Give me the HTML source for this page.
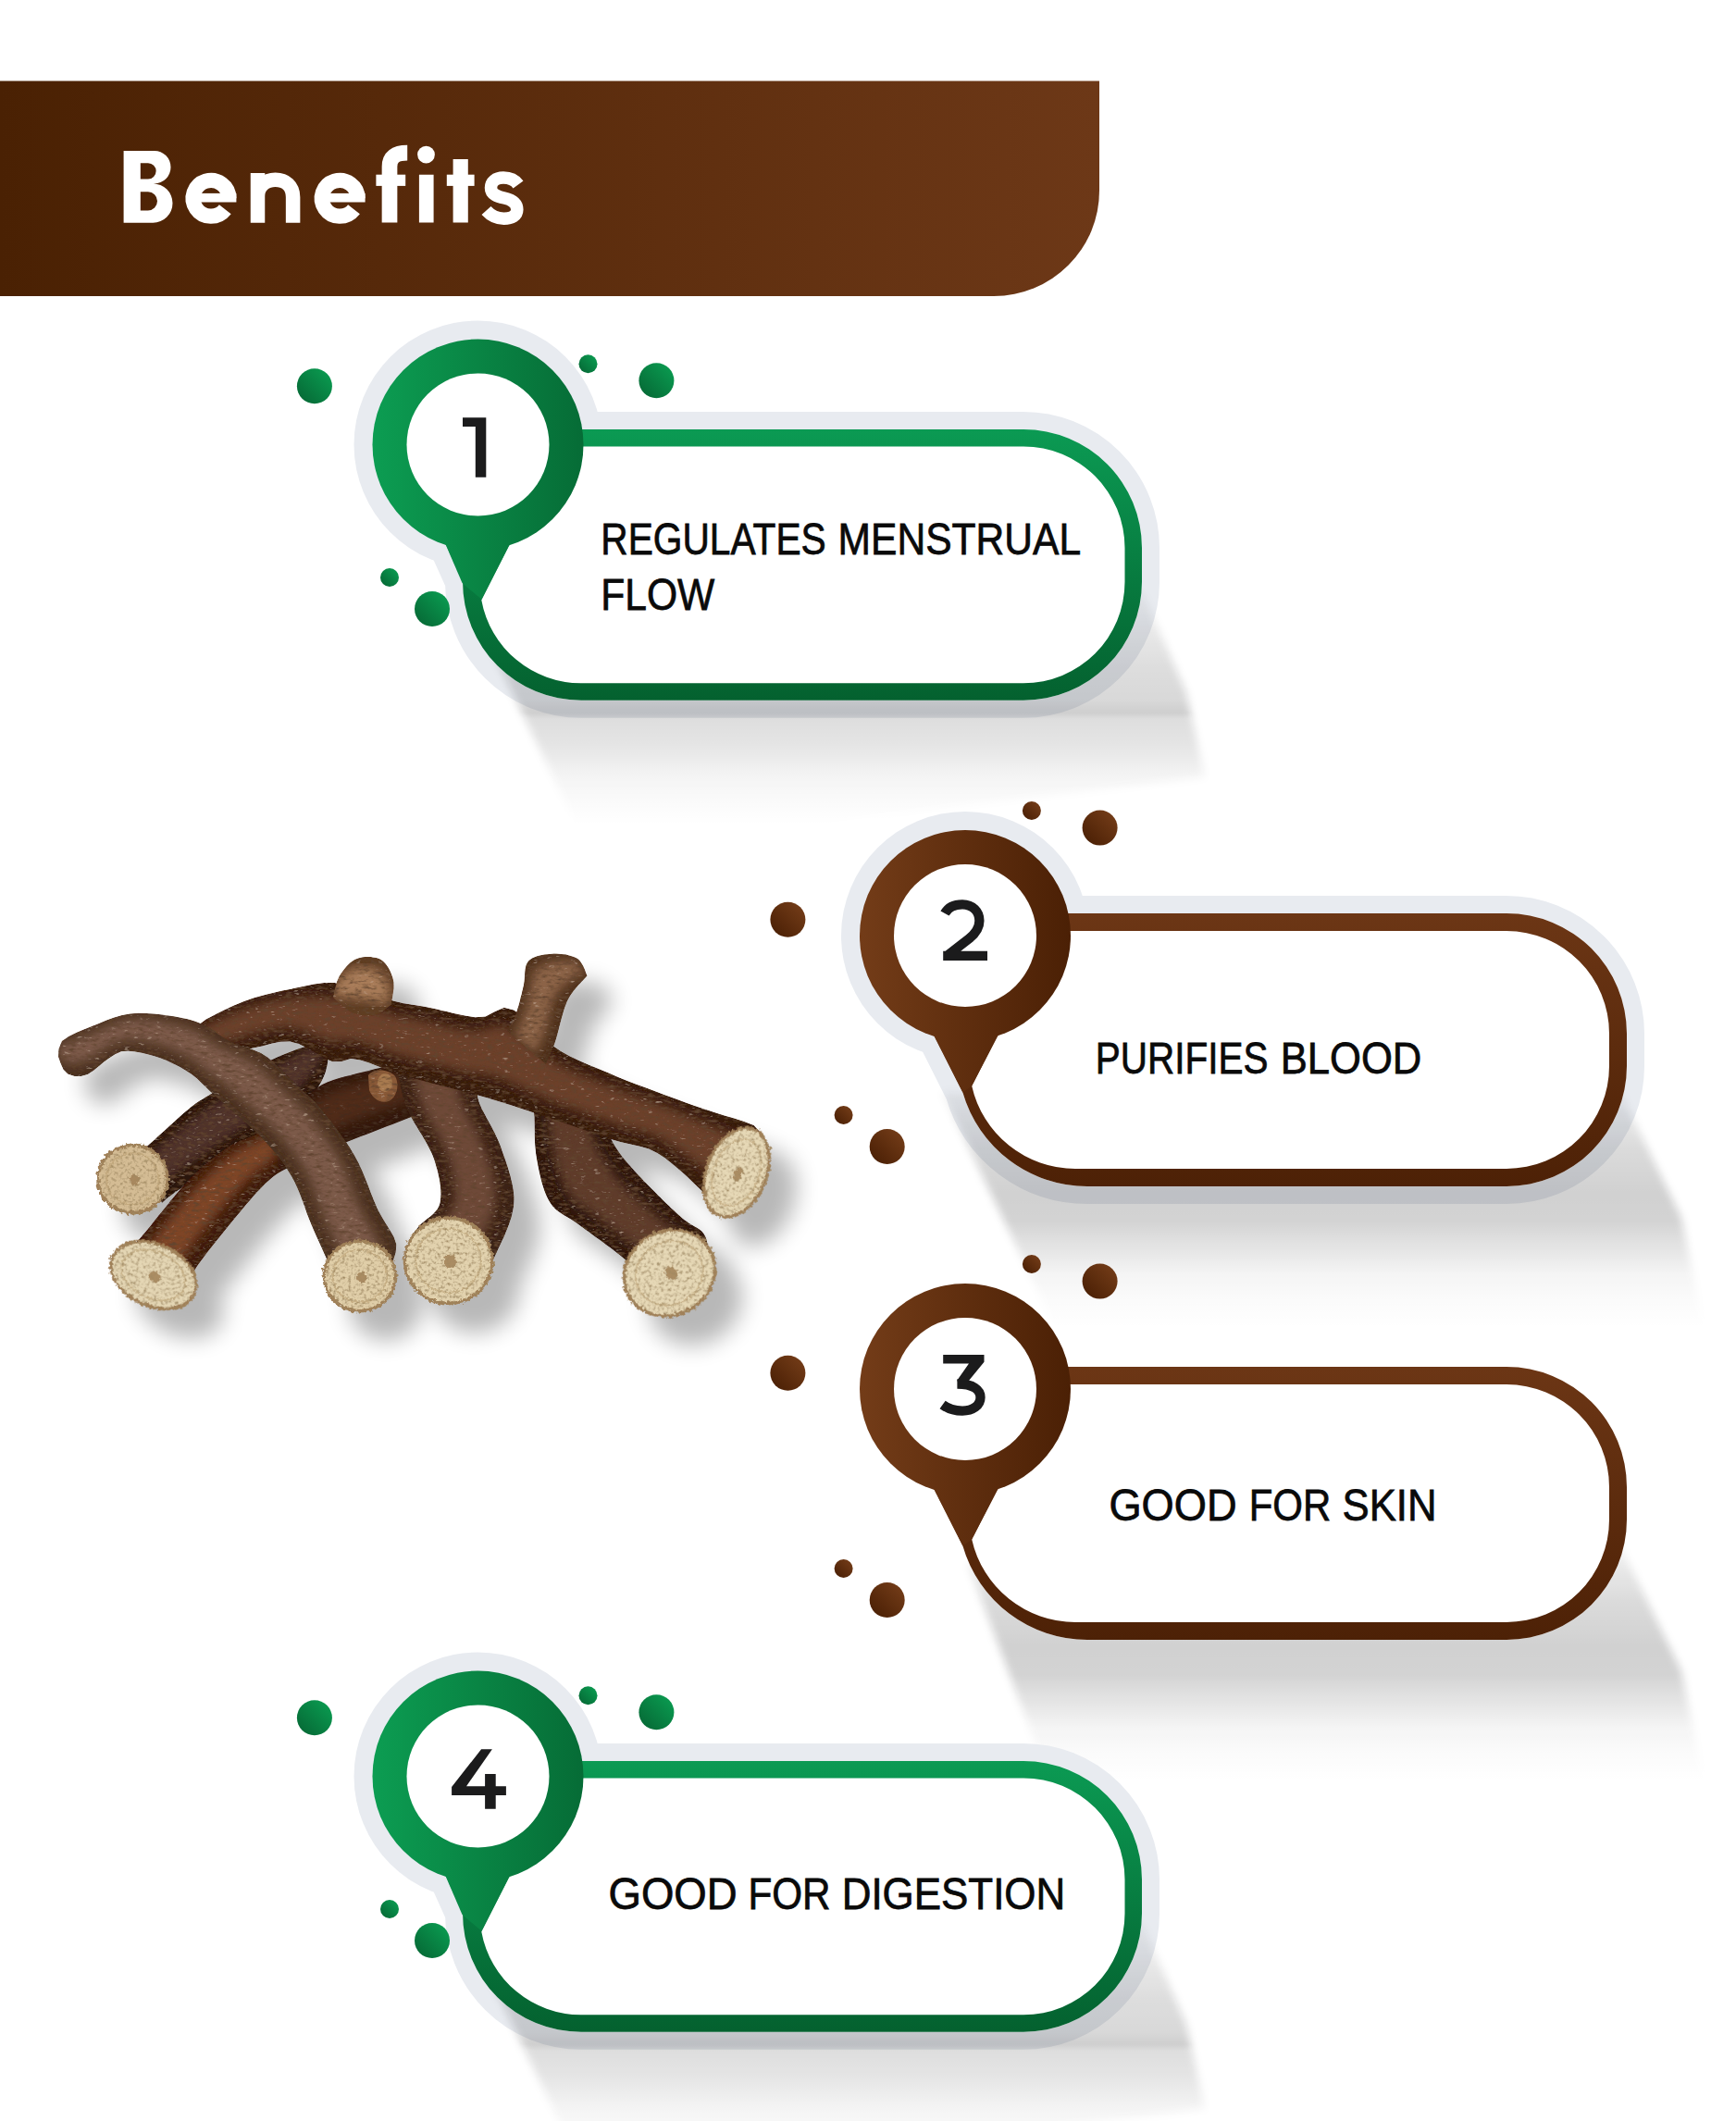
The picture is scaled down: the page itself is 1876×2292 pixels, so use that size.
<!DOCTYPE html>
<html><head><meta charset="utf-8"><style>
html,body{margin:0;padding:0;background:#fff;width:1876px;height:2292px;overflow:hidden}
svg{display:block}
text{font-family:"Liberation Sans",sans-serif}
</style></head><body>
<svg width="1876" height="2292" viewBox="0 0 1876 2292"><defs><linearGradient id="ban" x1="0" y1="0" x2="1" y2="0"><stop offset="0" stop-color="#4a2103"/><stop offset="1" stop-color="#6d3817"/></linearGradient></defs>
<path d="M0,87.5 L1188,87.5 L1188,206 A114,114 0 0 1 1074,320 L0,320 Z" fill="url(#ban)"/>
<g fill="#fff"><path fill-rule="evenodd" d="M133.6,162.9 H166.75 A17.75,17.75 0 0 1 166.75,198.4 L165.35,198.4 A21.15,21.15 0 0 1 165.35,240.7 H133.6 Z M151.8,176.2 H160 A8.65,8.65 0 0 1 160,193.5 H151.8 Z M151.8,207.3 H159.95 A10.05,10.05 0 0 1 159.95,227.4 H151.8 Z"/><circle cx="460.5" cy="167.1" r="9.4"/><rect x="406.4" y="188.7" width="31.8" height="12.2"/><rect x="482.8" y="188.7" width="29.8" height="12.2"/><rect x="212" y="208.9" width="43.4" height="9.6"/><rect x="351.2" y="208.9" width="43.4" height="9.6"/></g>
<g fill="none" stroke="#fff"><path stroke-width="16.2" d="M247.4,214.3 A19.4,19.4 0 1 0 243.3,226.2"/><path stroke-width="16.2" d="M386.6,214.3 A19.4,19.4 0 1 0 382.5,226.2"/><path stroke-width="15.5" d="M278.5,240.7 V187.1 M278.5,212 C278.5,201 287,194.3 297.5,194.3 C308.5,194.3 316.6,201 316.6,213 V240.7"/><path stroke-width="16.7" d="M421,240.6 V180 C421,170 427,165.2 440.2,165.2"/><path stroke-width="15.7" d="M460.75,188.7 V240.6"/><path stroke-width="16.2" d="M497.7,172 V240.6"/><path stroke-width="13.5" d="M560,199.5 C556,194 551,192.1 544,192.1 C535.5,192.1 530.5,196.5 530.5,203 C530.5,210.5 538,212.5 545,214 C553,215.8 558.8,219 558.8,226.5 C558.8,233 553,236.2 544.5,236.2 C536.5,236.2 530.5,233 525.5,227.5"/></g>
<defs><linearGradient id="g1c" gradientUnits="userSpaceOnUse" x1="402.5" y1="0" x2="630.5" y2="0"><stop offset="0" stop-color="#0c9d52"/><stop offset="1" stop-color="#066c36"/></linearGradient><linearGradient id="g1b" gradientUnits="userSpaceOnUse" x1="0" y1="464" x2="0" y2="756"><stop offset="0" stop-color="#0b9a53"/><stop offset="1" stop-color="#04612f"/></linearGradient><linearGradient id="g1d" x1="0.1" y1="0.9" x2="0.9" y2="0.1"><stop offset="0" stop-color="#066a36"/><stop offset="1" stop-color="#0a9a50"/></linearGradient></defs>
<g fill="#e8ebf0">
<circle cx="516.5" cy="480.5" r="134"/>
<path d="M560,464 L1106,464 A128,128 0 0 1 1234,592 L1234,628.8 A128,128 0 0 1 1106,756.8 L628,756.8 A128,128 0 0 1 500,628.8 L482,588.8 L470,560 Z" stroke="#e8ebf0" stroke-width="38" stroke-linejoin="round"/>
</g>
<defs><linearGradient id="g1sg" gradientUnits="userSpaceOnUse" x1="0" y1="600" x2="0" y2="920"><stop offset="0.0000" stop-color="#fff" stop-opacity="0"/><stop offset="0.1562" stop-color="#fff" stop-opacity="0.05"/><stop offset="0.3750" stop-color="#fff" stop-opacity="0.14"/><stop offset="0.4906" stop-color="#fff" stop-opacity="0.16"/><stop offset="0.5312" stop-color="#fff" stop-opacity="0.2"/><stop offset="0.5531" stop-color="#fff" stop-opacity="0.14"/><stop offset="0.6125" stop-color="#fff" stop-opacity="0.12"/><stop offset="0.6719" stop-color="#fff" stop-opacity="0.09"/><stop offset="0.7312" stop-color="#fff" stop-opacity="0.055"/><stop offset="0.7906" stop-color="#fff" stop-opacity="0.03"/><stop offset="0.8469" stop-color="#fff" stop-opacity="0.015"/><stop offset="0.9125" stop-color="#fff" stop-opacity="0"/></linearGradient><mask id="g1sm" maskUnits="userSpaceOnUse" x="0" y="0" width="1876" height="2292"><rect x="0" y="600" width="1876" height="320" fill="url(#g1sg)"/></mask><filter id="g1sf" filterUnits="userSpaceOnUse" x="0" y="0" width="1876" height="2292"><feGaussianBlur stdDeviation="4"/></filter></defs>
<g mask="url(#g1sm)"><polygon filter="url(#g1sf)" fill="#08080c" points="501.7,640.0 1234.9,640.0 1282.0,748.7 1302.0,840.0 636.0,920.0"/></g>
<path d="M560,464 L1106,464 A128,128 0 0 1 1234,592 L1234,628.8 A128,128 0 0 1 1106,756.8 L628,756.8 A128,128 0 0 1 500,628.8 L482,588.8 L470,560 Z" fill="#fff"/>
<path fill-rule="evenodd" fill="url(#g1b)" d="M560,464 L1106,464 A128,128 0 0 1 1234,592 L1234,628.8 A128,128 0 0 1 1106,756.8 L628,756.8 A128,128 0 0 1 500,628.8 L482,588.8 L470,560 Z M580,482.5 L1106,482.5 A109.5,109.5 0 0 1 1215.5,592 L1215.5,628.8 A109.5,109.5 0 0 1 1106,738.3 L628,738.3 A109.5,109.5 0 0 1 520.3,648.4 L550,590 L565,560 Z"/>
<polygon points="474.5,572 559,572 520.3,647.6 499.5,630" fill="url(#g1c)"/>
<circle cx="516.5" cy="480.5" r="114" fill="url(#g1c)"/>
<circle cx="516.5" cy="480.5" r="77" fill="#fff"/>
<path d="M500,451.3 H525.3 V515.8 H513.8 V461.1 H500 Z" fill="#1b1b1c"/>
<text transform="matrix(0.40683,0,0,0.47887,608.663,479.103)" x="100" y="250" font-family="Liberation Sans" font-weight="normal" font-size="100" fill="#0a0a0a" stroke="#0a0a0a" stroke-width="1.6">REGULATES</text>
<text transform="matrix(0.42574,0,0,0.47887,863.020,479.103)" x="100" y="250" font-family="Liberation Sans" font-weight="normal" font-size="100" fill="#0a0a0a" stroke="#0a0a0a" stroke-width="1.6">MENSTRUAL</text>
<text transform="matrix(0.42607,0,0,0.48310,606.584,538.242)" x="100" y="250" font-family="Liberation Sans" font-weight="normal" font-size="100" fill="#0a0a0a" stroke="#0a0a0a" stroke-width="1.6">FLOW</text>
<circle cx="339.9" cy="417.2" r="19" fill="url(#g1d)"/>
<circle cx="635.5" cy="393.2" r="10" fill="url(#g1d)"/>
<circle cx="709.4" cy="411.2" r="19" fill="url(#g1d)"/>
<circle cx="421" cy="624" r="10" fill="url(#g1d)"/>
<circle cx="467" cy="658" r="19" fill="url(#g1d)"/>
<defs><linearGradient id="g2c" gradientUnits="userSpaceOnUse" x1="929" y1="0" x2="1157" y2="0"><stop offset="0" stop-color="#733c18"/><stop offset="1" stop-color="#4b2005"/></linearGradient><linearGradient id="g2b" gradientUnits="userSpaceOnUse" x1="0" y1="987" x2="0" y2="1282"><stop offset="0" stop-color="#6c3615"/><stop offset="1" stop-color="#4d2106"/></linearGradient><linearGradient id="g2d" x1="0.1" y1="0.9" x2="0.9" y2="0.1"><stop offset="0" stop-color="#4b2005"/><stop offset="1" stop-color="#733c18"/></linearGradient></defs>
<g fill="#e8ebf0">
<circle cx="1043" cy="1011" r="134"/>
<path d="M1100,987 L1628,987 A130,130 0 0 1 1758,1117 L1758,1152 A130,130 0 0 1 1628,1282 L1175,1282 A140,140 0 0 1 1040.4,1180.6 L1000,1100 Z" stroke="#e8ebf0" stroke-width="38" stroke-linejoin="round"/>
</g>
<defs><linearGradient id="g2sg" gradientUnits="userSpaceOnUse" x1="0" y1="1130" x2="0" y2="1440"><stop offset="0.0000" stop-color="#fff" stop-opacity="0"/><stop offset="0.1613" stop-color="#fff" stop-opacity="0.05"/><stop offset="0.3548" stop-color="#fff" stop-opacity="0.15"/><stop offset="0.5161" stop-color="#fff" stop-opacity="0.19"/><stop offset="0.6129" stop-color="#fff" stop-opacity="0.18"/><stop offset="0.7194" stop-color="#fff" stop-opacity="0.1"/><stop offset="0.7968" stop-color="#fff" stop-opacity="0.045"/><stop offset="0.8710" stop-color="#fff" stop-opacity="0.02"/><stop offset="0.9839" stop-color="#fff" stop-opacity="0"/></linearGradient><mask id="g2sm" maskUnits="userSpaceOnUse" x="0" y="0" width="1876" height="2292"><rect x="0" y="1130" width="1876" height="310" fill="url(#g2sg)"/></mask><filter id="g2sf" filterUnits="userSpaceOnUse" x="0" y="0" width="1876" height="2292"><feGaussianBlur stdDeviation="4"/></filter></defs>
<g mask="url(#g2sm)"><polygon filter="url(#g2sf)" fill="#08080c" points="1018.0,1180.0 1751.0,1180.0 1817.0,1316.0 1842.0,1440.0 1143.0,1440.0"/></g>
<path d="M1100,987 L1628,987 A130,130 0 0 1 1758,1117 L1758,1152 A130,130 0 0 1 1628,1282 L1175,1282 A140,140 0 0 1 1040.4,1180.6 L1000,1100 Z" fill="#fff"/>
<path fill-rule="evenodd" fill="url(#g2b)" d="M1100,987 L1628,987 A130,130 0 0 1 1758,1117 L1758,1152 A130,130 0 0 1 1628,1282 L1175,1282 A140,140 0 0 1 1040.4,1180.6 L1000,1100 Z M1120,1006 L1628,1006 A111,111 0 0 1 1739,1117 L1739,1152 A111,111 0 0 1 1628,1263 L1162,1263 A114.6,114.6 0 0 1 1050.2,1173.4 L1077.9,1120.2 L1100,1080 Z"/>
<polygon points="1002,1105 1085,1105 1050.2,1173.4 1040.4,1180.6" fill="url(#g2c)"/>
<circle cx="1043" cy="1011" r="114" fill="url(#g2c)"/>
<circle cx="1043" cy="1011" r="77" fill="#fff"/>
<path d="M1021,987 C1024.5,980.5 1031,977.3 1040,977.3 C1051,977.3 1058.4,985 1058.4,995 C1058.4,1003 1054,1009 1047,1014.5 L1022.5,1033.5 M1019.2,1032.85 H1067" fill="none" stroke="#1b1b1c" stroke-width="10.3" stroke-linejoin="miter"/>
<text transform="matrix(0.40512,0,0,0.48592,1143.347,1038.335)" x="100" y="250" font-family="Liberation Sans" font-weight="normal" font-size="100" fill="#0a0a0a" stroke="#0a0a0a" stroke-width="1.6">PURIFIES</text>
<text transform="matrix(0.43580,0,0,0.48592,1340.134,1038.335)" x="100" y="250" font-family="Liberation Sans" font-weight="normal" font-size="100" fill="#0a0a0a" stroke="#0a0a0a" stroke-width="1.6">BLOOD</text>
<circle cx="1114.9" cy="876" r="10" fill="url(#g2d)"/>
<circle cx="1188.6" cy="894.6" r="19" fill="url(#g2d)"/>
<circle cx="851.4" cy="993.8" r="19" fill="url(#g2d)"/>
<circle cx="911.6" cy="1205" r="10" fill="url(#g2d)"/>
<circle cx="958.7" cy="1239" r="19" fill="url(#g2d)"/>
<defs><linearGradient id="g3c" gradientUnits="userSpaceOnUse" x1="929" y1="0" x2="1157" y2="0"><stop offset="0" stop-color="#733c18"/><stop offset="1" stop-color="#4b2005"/></linearGradient><linearGradient id="g3b" gradientUnits="userSpaceOnUse" x1="0" y1="1477" x2="0" y2="1772"><stop offset="0" stop-color="#6c3615"/><stop offset="1" stop-color="#4d2106"/></linearGradient><linearGradient id="g3d" x1="0.1" y1="0.9" x2="0.9" y2="0.1"><stop offset="0" stop-color="#4b2005"/><stop offset="1" stop-color="#733c18"/></linearGradient></defs>
<defs><linearGradient id="g3sg" gradientUnits="userSpaceOnUse" x1="0" y1="1620" x2="0" y2="1930"><stop offset="0.0000" stop-color="#fff" stop-opacity="0"/><stop offset="0.1613" stop-color="#fff" stop-opacity="0.05"/><stop offset="0.3548" stop-color="#fff" stop-opacity="0.15"/><stop offset="0.5161" stop-color="#fff" stop-opacity="0.19"/><stop offset="0.6129" stop-color="#fff" stop-opacity="0.18"/><stop offset="0.7194" stop-color="#fff" stop-opacity="0.1"/><stop offset="0.7968" stop-color="#fff" stop-opacity="0.045"/><stop offset="0.8710" stop-color="#fff" stop-opacity="0.02"/><stop offset="0.9839" stop-color="#fff" stop-opacity="0"/></linearGradient><mask id="g3sm" maskUnits="userSpaceOnUse" x="0" y="0" width="1876" height="2292"><rect x="0" y="1620" width="1876" height="310" fill="url(#g3sg)"/></mask><filter id="g3sf" filterUnits="userSpaceOnUse" x="0" y="0" width="1876" height="2292"><feGaussianBlur stdDeviation="4"/></filter></defs>
<g mask="url(#g3sm)"><polygon filter="url(#g3sf)" fill="#08080c" points="1046.0,1690.0 1751.0,1670.0 1817.0,1806.0 1842.0,1930.0 1136.0,1930.0"/></g>
<path d="M1100,1477 L1628,1477 A130,130 0 0 1 1758,1607 L1758,1642 A130,130 0 0 1 1628,1772 L1175,1772 A140,140 0 0 1 1040.4,1670.6 L1000,1590 Z" fill="#fff"/>
<path fill-rule="evenodd" fill="url(#g3b)" d="M1100,1477 L1628,1477 A130,130 0 0 1 1758,1607 L1758,1642 A130,130 0 0 1 1628,1772 L1175,1772 A140,140 0 0 1 1040.4,1670.6 L1000,1590 Z M1120,1496 L1628,1496 A111,111 0 0 1 1739,1607 L1739,1642 A111,111 0 0 1 1628,1753 L1162,1753 A114.6,114.6 0 0 1 1050.2,1663.4 L1077.9,1610.2 L1100,1570 Z"/>
<polygon points="1002,1595 1085,1595 1050.2,1663.4 1040.4,1670.6" fill="url(#g3c)"/>
<circle cx="1043" cy="1501" r="114" fill="url(#g3c)"/>
<circle cx="1043" cy="1501" r="77" fill="#fff"/>
<path d="M1034.4,1495.5 C1052,1495.5 1059.5,1502 1059.5,1510 C1059.5,1519 1051,1524.6 1040,1524.6 C1031,1524.6 1024,1522 1018.6,1518" fill="none" stroke="#1b1b1c" stroke-width="10.3" stroke-linejoin="miter"/>
<path d="M1019.2,1464.1 L1063.5,1464.1 L1063.5,1471.7 L1046.5,1492.5 L1034.4,1492.5 L1034.4,1491.6 L1047,1473.6 L1019.2,1473.6 Z" fill="#1b1b1c"/>
<text transform="matrix(0.45203,0,0,0.48451,1153.237,1521.689)" x="100" y="250" font-family="Liberation Sans" font-weight="normal" font-size="100" fill="#0a0a0a" stroke="#0a0a0a" stroke-width="1.6">GOOD</text>
<text transform="matrix(0.41970,0,0,0.48451,1307.773,1521.689)" x="100" y="250" font-family="Liberation Sans" font-weight="normal" font-size="100" fill="#0a0a0a" stroke="#0a0a0a" stroke-width="1.6">FOR</text>
<text transform="matrix(0.43727,0,0,0.48451,1406.786,1521.689)" x="100" y="250" font-family="Liberation Sans" font-weight="normal" font-size="100" fill="#0a0a0a" stroke="#0a0a0a" stroke-width="1.6">SKIN</text>
<circle cx="1114.9" cy="1366" r="10" fill="url(#g3d)"/>
<circle cx="1188.6" cy="1384.6" r="19" fill="url(#g3d)"/>
<circle cx="851.4" cy="1483.8" r="19" fill="url(#g3d)"/>
<circle cx="911.6" cy="1695" r="10" fill="url(#g3d)"/>
<circle cx="958.7" cy="1729" r="19" fill="url(#g3d)"/>
<defs><linearGradient id="g4c" gradientUnits="userSpaceOnUse" x1="402.5" y1="0" x2="630.5" y2="0"><stop offset="0" stop-color="#0c9d52"/><stop offset="1" stop-color="#066c36"/></linearGradient><linearGradient id="g4b" gradientUnits="userSpaceOnUse" x1="0" y1="1903" x2="0" y2="2195"><stop offset="0" stop-color="#0b9a53"/><stop offset="1" stop-color="#04612f"/></linearGradient><linearGradient id="g4d" x1="0.1" y1="0.9" x2="0.9" y2="0.1"><stop offset="0" stop-color="#066a36"/><stop offset="1" stop-color="#0a9a50"/></linearGradient></defs>
<g fill="#e8ebf0">
<circle cx="516.5" cy="1919.5" r="134"/>
<path d="M560,1903 L1106,1903 A128,128 0 0 1 1234,2031 L1234,2067.8 A128,128 0 0 1 1106,2195.8 L628,2195.8 A128,128 0 0 1 500,2067.8 L482,2027.8 L470,1999 Z" stroke="#e8ebf0" stroke-width="38" stroke-linejoin="round"/>
</g>
<defs><linearGradient id="g4sg" gradientUnits="userSpaceOnUse" x1="0" y1="2039" x2="0" y2="2359"><stop offset="0.0000" stop-color="#fff" stop-opacity="0"/><stop offset="0.1562" stop-color="#fff" stop-opacity="0.05"/><stop offset="0.3750" stop-color="#fff" stop-opacity="0.14"/><stop offset="0.4906" stop-color="#fff" stop-opacity="0.16"/><stop offset="0.5312" stop-color="#fff" stop-opacity="0.2"/><stop offset="0.5531" stop-color="#fff" stop-opacity="0.14"/><stop offset="0.6125" stop-color="#fff" stop-opacity="0.12"/><stop offset="0.6719" stop-color="#fff" stop-opacity="0.09"/><stop offset="0.7312" stop-color="#fff" stop-opacity="0.055"/><stop offset="0.7906" stop-color="#fff" stop-opacity="0.03"/><stop offset="0.8469" stop-color="#fff" stop-opacity="0.015"/><stop offset="0.9125" stop-color="#fff" stop-opacity="0"/></linearGradient><mask id="g4sm" maskUnits="userSpaceOnUse" x="0" y="0" width="1876" height="2292"><rect x="0" y="2039" width="1876" height="320" fill="url(#g4sg)"/></mask><filter id="g4sf" filterUnits="userSpaceOnUse" x="0" y="0" width="1876" height="2292"><feGaussianBlur stdDeviation="4"/></filter></defs>
<g mask="url(#g4sm)"><polygon filter="url(#g4sf)" fill="#08080c" points="501.7,2079.0 1234.9,2079.0 1282.0,2187.7 1302.0,2279.0 636.0,2359.0"/></g>
<path d="M560,1903 L1106,1903 A128,128 0 0 1 1234,2031 L1234,2067.8 A128,128 0 0 1 1106,2195.8 L628,2195.8 A128,128 0 0 1 500,2067.8 L482,2027.8 L470,1999 Z" fill="#fff"/>
<path fill-rule="evenodd" fill="url(#g4b)" d="M560,1903 L1106,1903 A128,128 0 0 1 1234,2031 L1234,2067.8 A128,128 0 0 1 1106,2195.8 L628,2195.8 A128,128 0 0 1 500,2067.8 L482,2027.8 L470,1999 Z M580,1921.5 L1106,1921.5 A109.5,109.5 0 0 1 1215.5,2031 L1215.5,2067.8 A109.5,109.5 0 0 1 1106,2177.3 L628,2177.3 A109.5,109.5 0 0 1 520.3,2087.4 L550,2029 L565,1999 Z"/>
<polygon points="474.5,2011 559,2011 520.3,2086.6 499.5,2069" fill="url(#g4c)"/>
<circle cx="516.5" cy="1919.5" r="114" fill="url(#g4c)"/>
<circle cx="516.5" cy="1919.5" r="77" fill="#fff"/>
<path d="M520.1,1890.2 L531.9,1890.2 L504,1930.2 L524.1,1930.2 L524.1,1917 L535.7,1917 L535.7,1930.2 L546.9,1930.2 L546.9,1940 L535.7,1940 L535.7,1954.7 L524.1,1954.7 L524.1,1940 L488.1,1940 L488.1,1931 Z" fill="#1b1b1c"/>
<text transform="matrix(0.45541,0,0,0.47887,611.982,1943.603)" x="100" y="250" font-family="Liberation Sans" font-weight="normal" font-size="100" fill="#0a0a0a" stroke="#0a0a0a" stroke-width="1.6">GOOD</text>
<text transform="matrix(0.42222,0,0,0.47887,766.200,1943.603)" x="100" y="250" font-family="Liberation Sans" font-weight="normal" font-size="100" fill="#0a0a0a" stroke="#0a0a0a" stroke-width="1.6">FOR</text>
<text transform="matrix(0.43933,0,0,0.47887,865.753,1943.603)" x="100" y="250" font-family="Liberation Sans" font-weight="normal" font-size="100" fill="#0a0a0a" stroke="#0a0a0a" stroke-width="1.6">DIGESTION</text>
<circle cx="339.9" cy="1856.2" r="19" fill="url(#g4d)"/>
<circle cx="635.5" cy="1832.2" r="10" fill="url(#g4d)"/>
<circle cx="709.4" cy="1850.2" r="19" fill="url(#g4d)"/>
<circle cx="421" cy="2063" r="10" fill="url(#g4d)"/>
<circle cx="467" cy="2097" r="19" fill="url(#g4d)"/>
<g><defs><filter id="stkblur" x="-10%" y="-10%" width="120%" height="120%"><feGaussianBlur stdDeviation="6"/></filter><filter id="stkshadow" filterUnits="userSpaceOnUse" x="0" y="950" width="950" height="550"><feGaussianBlur stdDeviation="12"/></filter><filter id="bark" filterUnits="userSpaceOnUse" x="0" y="950" width="950" height="550"><feTurbulence type="fractalNoise" baseFrequency="0.12 0.3" numOctaves="3" seed="7" result="n"/><feColorMatrix in="n" type="matrix" values="0 0 0 0 0.12  0 0 0 0 0.06  0 0 0 0 0.03  -2.8 0 0 0 1.45" result="dk"/><feComposite in="dk" in2="SourceAlpha" operator="in" result="dkm"/><feColorMatrix in="n" type="matrix" values="0 0 0 0 0.62  0 0 0 0 0.46  0 0 0 0 0.34  2.2 0 0 0 -1.5" result="lt"/><feComposite in="lt" in2="SourceAlpha" operator="in" result="ltm"/><feMerge><feMergeNode in="SourceGraphic"/><feMergeNode in="dkm"/><feMergeNode in="ltm"/></feMerge></filter><filter id="cutf" filterUnits="userSpaceOnUse" x="0" y="950" width="950" height="550"><feTurbulence type="fractalNoise" baseFrequency="0.3" numOctaves="2" seed="11" result="n"/><feDisplacementMap in="SourceGraphic" in2="n" scale="6" xChannelSelector="R" yChannelSelector="G" result="d"/><feColorMatrix in="n" type="matrix" values="0 0 0 0 0.35  0 0 0 0 0.25  0 0 0 0 0.12  -2.5 0 0 0 1.35" result="dk"/><feComposite in="dk" in2="d" operator="in" result="dkm"/><feMerge><feMergeNode in="d"/><feMergeNode in="dkm"/></feMerge></filter></defs><g fill="#000" opacity="0.28" filter="url(#stkshadow)" transform="translate(28,30)"><path d="M150.0,1245.0 L153.4,1242.8 L156.7,1240.3 L159.9,1237.8 L163.0,1235.1 L166.1,1232.3 L169.1,1229.6 L172.1,1226.8 L175.1,1224.0 L178.2,1221.3 L181.2,1218.5 L184.2,1215.7 L187.2,1212.9 L190.2,1210.2 L193.3,1207.4 L196.3,1204.7 L199.4,1202.0 L202.6,1199.4 L205.7,1196.8 L209.0,1194.2 L212.3,1191.8 L215.7,1189.5 L219.2,1187.4 L222.7,1185.3 L226.2,1183.2 L229.7,1181.1 L233.2,1179.0 L236.8,1176.9 L240.3,1174.8 L243.8,1172.7 L247.3,1170.6 L250.9,1168.6 L254.4,1166.5 L258.0,1164.4 L261.5,1162.4 L265.1,1160.3 L268.6,1158.3 L272.2,1156.3 L275.8,1154.3 L279.4,1152.3 L283.0,1150.4 L286.6,1148.5 L290.3,1146.7 L294.0,1144.9 L297.7,1143.2 L301.4,1141.5 L305.2,1139.9 L309.0,1138.4 L312.8,1136.9 L316.7,1135.5 L320.6,1134.1 L324.4,1132.8 L328.3,1131.6 L332.3,1130.4 L336.2,1129.2 L340.1,1128.0 L344.0,1126.8 L348.0,1125.8 L352.0,1124.9 L356.0,1124.0 L356.0,1124.0 L355.7,1128.5 L355.4,1132.9 L355.2,1137.4 L354.8,1141.9 L354.4,1146.3 L353.7,1150.8 L352.8,1155.1 L351.5,1159.4 L349.9,1163.6 L348.0,1167.6 L345.9,1171.6 L343.5,1175.4 L340.9,1179.0 L338.1,1182.5 L335.1,1185.9 L332.0,1189.1 L328.8,1192.2 L325.5,1195.2 L322.1,1198.1 L318.6,1200.9 L315.1,1203.7 L311.5,1206.4 L308.0,1209.1 L304.4,1211.8 L300.8,1214.4 L297.1,1217.1 L293.5,1219.7 L289.8,1222.2 L286.1,1224.8 L282.4,1227.3 L278.7,1229.8 L275.0,1232.2 L271.2,1234.7 L267.5,1237.2 L263.8,1239.6 L260.0,1242.1 L256.3,1244.6 L252.5,1247.0 L248.8,1249.5 L245.1,1252.0 L241.3,1254.4 L237.6,1256.9 L233.8,1259.3 L230.1,1261.8 L226.3,1264.2 L222.6,1266.6 L218.8,1269.1 L215.1,1271.5 L211.3,1274.0 L207.6,1276.4 L203.8,1278.8 L200.1,1281.3 L196.3,1283.8 L192.6,1286.2 L188.9,1288.8 L185.3,1291.4 L181.7,1294.1 L178.3,1297.0 L175.0,1300.0 Z"/><path d="M135.0,1352.0 L140.5,1348.4 L145.4,1344.1 L150.0,1339.4 L154.3,1334.5 L158.6,1329.4 L162.7,1324.4 L166.8,1319.3 L170.9,1314.1 L175.1,1309.0 L179.2,1303.9 L183.3,1298.8 L187.5,1293.8 L191.7,1288.7 L196.0,1283.8 L200.3,1278.9 L204.8,1274.1 L209.4,1269.4 L214.2,1264.8 L219.0,1260.4 L223.9,1256.1 L229.0,1251.9 L234.2,1247.9 L239.5,1244.0 L244.8,1240.2 L250.4,1236.8 L256.3,1233.9 L262.4,1231.4 L268.5,1229.1 L274.5,1226.4 L280.3,1223.4 L285.9,1219.9 L291.3,1216.2 L296.7,1212.4 L302.0,1208.6 L307.2,1204.6 L312.5,1200.7 L317.7,1196.7 L322.9,1192.7 L327.8,1188.4 L332.6,1183.9 L337.5,1179.5 L342.6,1175.4 L348.1,1171.9 L354.1,1169.2 L360.2,1166.9 L366.5,1165.0 L372.9,1163.3 L379.2,1161.7 L385.6,1160.1 L392.0,1158.5 L398.3,1156.9 L404.7,1155.3 L411.1,1153.8 L417.5,1152.4 L423.9,1151.1 L430.4,1150.0 L436.9,1149.4 L443.5,1149.5 L450.0,1150.0 L470.0,1190.0 L468.7,1195.4 L463.6,1198.7 L458.1,1201.3 L452.5,1203.8 L446.9,1206.1 L441.2,1208.3 L435.5,1210.6 L429.8,1212.8 L424.2,1215.0 L418.5,1217.1 L412.8,1219.3 L407.1,1221.5 L401.4,1223.7 L395.7,1225.9 L390.0,1228.1 L384.3,1230.3 L378.7,1232.5 L373.0,1234.8 L367.4,1237.1 L361.7,1239.4 L356.1,1241.7 L350.5,1244.0 L344.8,1246.3 L339.2,1248.7 L333.6,1251.1 L328.1,1253.6 L322.5,1256.2 L317.1,1258.9 L311.7,1261.7 L306.3,1264.5 L301.0,1267.6 L296.0,1271.1 L291.3,1275.0 L286.8,1279.1 L282.5,1283.4 L278.3,1287.8 L274.2,1292.3 L270.2,1296.9 L266.2,1301.5 L262.3,1306.2 L258.4,1310.9 L254.6,1315.6 L250.7,1320.3 L246.8,1325.0 L243.0,1329.7 L239.1,1334.4 L235.3,1339.2 L231.5,1343.9 L227.7,1348.7 L223.9,1353.5 L220.3,1358.4 L216.7,1363.3 L213.1,1368.3 L209.8,1373.4 L206.6,1378.6 L203.6,1383.9 L200.7,1389.2 L197.9,1394.6 L195.0,1400.0 Z"/><path d="M575.0,1190.0 L575.9,1193.9 L576.6,1197.9 L577.0,1201.9 L577.4,1206.0 L577.5,1210.0 L577.6,1214.0 L577.6,1218.1 L577.7,1222.1 L577.7,1226.2 L577.8,1230.2 L578.0,1234.2 L578.2,1238.3 L578.6,1242.3 L579.0,1246.3 L579.6,1250.3 L580.3,1254.3 L581.0,1258.3 L581.8,1262.2 L582.6,1266.2 L583.5,1270.1 L584.5,1274.1 L585.5,1278.0 L586.7,1281.9 L587.9,1285.7 L589.3,1289.5 L590.9,1293.2 L592.7,1296.8 L594.8,1300.3 L597.2,1303.5 L600.0,1306.4 L603.1,1309.0 L606.4,1311.3 L609.8,1313.5 L613.3,1315.5 L616.8,1317.6 L620.2,1319.8 L623.5,1322.1 L626.8,1324.4 L630.0,1326.8 L633.3,1329.2 L636.6,1331.6 L639.8,1334.0 L643.1,1336.4 L646.4,1338.8 L649.6,1341.1 L652.9,1343.5 L656.1,1345.9 L659.4,1348.3 L662.6,1350.8 L665.8,1353.2 L669.0,1355.7 L672.1,1358.3 L675.2,1361.0 L678.1,1363.8 L680.8,1366.7 L683.3,1369.9 L685.7,1373.2 L687.8,1376.6 L690.0,1380.0 L765.0,1345.0 L764.1,1341.9 L763.3,1338.8 L762.1,1335.8 L760.5,1333.0 L758.5,1330.6 L756.0,1328.5 L753.3,1326.8 L750.5,1325.2 L747.7,1323.6 L745.0,1321.9 L742.3,1320.1 L739.7,1318.2 L737.2,1316.2 L734.8,1314.1 L732.4,1312.0 L730.0,1309.8 L727.7,1307.6 L725.3,1305.4 L723.0,1303.1 L720.7,1300.9 L718.4,1298.7 L716.1,1296.4 L713.8,1294.1 L711.5,1291.9 L709.2,1289.6 L707.0,1287.3 L704.7,1285.1 L702.5,1282.8 L700.2,1280.5 L698.0,1278.2 L695.7,1275.9 L693.5,1273.5 L691.3,1271.2 L689.1,1268.9 L686.9,1266.5 L684.7,1264.1 L682.6,1261.7 L680.5,1259.3 L678.3,1256.9 L676.3,1254.4 L674.2,1252.0 L672.2,1249.5 L670.3,1246.9 L668.4,1244.3 L666.6,1241.6 L664.9,1238.9 L663.2,1236.1 L661.7,1233.3 L660.2,1230.5 L658.9,1227.5 L657.8,1224.5 L656.6,1221.5 L655.6,1218.5 L654.6,1215.4 L653.7,1212.3 L652.8,1209.2 L651.9,1206.2 L651.0,1203.1 L650.0,1200.0 Z"/><path d="M430.0,1160.0 L430.7,1163.3 L431.3,1166.5 L431.8,1169.8 L432.4,1173.1 L433.1,1176.4 L433.8,1179.6 L434.6,1182.9 L435.4,1186.1 L436.4,1189.3 L437.4,1192.5 L438.6,1195.6 L439.9,1198.7 L441.3,1201.7 L442.8,1204.7 L444.4,1207.6 L446.1,1210.5 L447.7,1213.4 L449.5,1216.2 L451.2,1219.1 L452.9,1221.9 L454.7,1224.7 L456.4,1227.6 L458.1,1230.5 L459.8,1233.3 L461.4,1236.3 L463.0,1239.2 L464.5,1242.2 L466.0,1245.2 L467.3,1248.2 L468.5,1251.3 L469.6,1254.5 L470.6,1257.7 L471.5,1260.9 L472.4,1264.1 L473.2,1267.3 L473.9,1270.6 L474.6,1273.8 L475.2,1277.1 L475.6,1280.4 L476.0,1283.7 L476.3,1287.1 L476.3,1290.4 L476.2,1293.7 L475.9,1297.0 L475.3,1300.3 L474.2,1303.5 L472.6,1306.4 L470.6,1309.0 L468.3,1311.5 L465.9,1313.7 L463.3,1315.8 L460.6,1317.8 L458.0,1319.9 L455.5,1322.0 L453.2,1324.5 L451.0,1327.0 L449.0,1329.6 L447.0,1332.3 L445.0,1335.0 L525.0,1370.0 L527.8,1367.4 L530.5,1364.7 L532.6,1361.5 L534.5,1358.2 L536.1,1354.7 L537.7,1351.2 L539.3,1347.8 L541.0,1344.3 L542.6,1340.8 L544.2,1337.4 L545.7,1333.9 L547.2,1330.3 L548.6,1326.8 L550.0,1323.2 L551.2,1319.6 L552.4,1315.9 L553.4,1312.3 L554.2,1308.5 L554.9,1304.8 L555.3,1301.0 L555.5,1297.1 L555.5,1293.3 L555.1,1289.5 L554.7,1285.7 L554.1,1281.9 L553.3,1278.2 L552.4,1274.4 L551.5,1270.7 L550.4,1267.1 L549.4,1263.4 L548.2,1259.8 L547.0,1256.1 L545.8,1252.5 L544.5,1248.9 L543.2,1245.3 L542.0,1241.7 L540.7,1238.1 L539.3,1234.5 L537.8,1231.0 L536.2,1227.5 L534.5,1224.1 L532.8,1220.7 L531.0,1217.3 L529.2,1213.9 L527.3,1210.6 L525.5,1207.2 L523.7,1203.8 L521.9,1200.4 L520.2,1197.0 L518.7,1193.5 L517.4,1189.9 L516.4,1186.2 L515.9,1182.4 L515.8,1178.6 L516.1,1174.8 L516.8,1171.0 L517.9,1167.3 L519.0,1163.7 L520.0,1160.0 Z"/><path d="M214.0,1108.0 L222.6,1101.4 L232.6,1096.2 L242.6,1091.2 L252.8,1086.4 L263.1,1082.2 L273.7,1078.5 L284.5,1075.5 L295.4,1072.7 L306.3,1070.3 L317.3,1068.1 L328.3,1065.8 L339.2,1063.5 L350.3,1062.0 L361.5,1062.1 L372.5,1064.1 L383.3,1067.2 L393.9,1071.0 L404.3,1074.9 L414.9,1078.6 L425.7,1081.8 L436.6,1084.2 L447.7,1086.0 L458.7,1087.8 L469.7,1089.9 L480.6,1092.5 L491.5,1095.2 L502.5,1097.6 L513.5,1099.2 L524.6,1098.4 L534.5,1093.2 L544.7,1088.8 L555.4,1091.6 L564.3,1098.3 L572.5,1106.0 L580.3,1114.0 L588.2,1121.9 L596.6,1129.4 L605.7,1135.8 L615.5,1141.3 L625.6,1146.1 L635.9,1150.5 L646.3,1154.8 L656.7,1159.0 L667.0,1163.5 L677.3,1167.7 L687.8,1171.7 L698.3,1175.6 L708.8,1179.6 L719.3,1183.5 L729.8,1187.3 L740.4,1191.2 L750.9,1195.0 L761.5,1198.6 L772.1,1202.1 L782.9,1205.4 L793.6,1208.6 L804.3,1211.9 L814.7,1216.0 L822.0,1224.0 L775.0,1310.0 L769.8,1301.2 L763.9,1292.9 L756.9,1285.5 L749.6,1278.4 L742.2,1271.3 L734.6,1264.5 L726.8,1257.9 L718.8,1251.6 L710.3,1246.0 L701.1,1241.6 L691.3,1238.7 L681.3,1236.6 L671.3,1234.3 L661.5,1231.5 L651.9,1228.2 L642.2,1224.9 L632.6,1221.6 L622.9,1218.3 L613.3,1214.9 L603.6,1211.6 L594.0,1208.2 L584.3,1204.9 L574.6,1201.7 L564.9,1198.5 L555.2,1195.3 L545.5,1192.2 L535.8,1189.2 L526.0,1186.3 L516.2,1183.5 L506.3,1180.8 L496.4,1178.2 L486.5,1175.7 L476.6,1173.2 L466.8,1170.7 L456.9,1168.1 L447.0,1165.4 L437.2,1162.6 L427.5,1159.4 L417.9,1155.9 L408.4,1152.2 L398.9,1148.5 L389.2,1145.4 L379.1,1144.1 L369.3,1146.9 L359.3,1147.3 L350.0,1143.2 L341.2,1138.1 L332.4,1132.8 L323.3,1128.2 L313.5,1125.5 L303.3,1125.7 L293.4,1127.8 L283.5,1130.4 L273.5,1132.6 L263.6,1135.0 L253.7,1137.4 L243.8,1139.9 L233.9,1142.5 L224.0,1145.0 Z"/><path d="M548.0,1114.0 L549.3,1111.7 L550.6,1109.3 L551.9,1107.0 L553.1,1104.7 L554.3,1102.3 L555.5,1099.9 L556.6,1097.5 L557.6,1095.0 L558.5,1092.5 L559.3,1090.0 L560.1,1087.4 L560.8,1084.9 L561.5,1082.3 L562.2,1079.7 L562.8,1077.1 L563.5,1074.6 L564.1,1072.0 L564.7,1069.4 L565.3,1066.8 L565.9,1064.2 L566.3,1061.6 L566.6,1058.9 L566.8,1056.3 L567.0,1053.6 L567.1,1051.0 L567.4,1048.3 L567.8,1045.7 L568.5,1043.1 L569.5,1040.7 L571.0,1038.5 L573.0,1036.7 L575.3,1035.3 L577.7,1034.2 L580.2,1033.3 L582.8,1032.6 L585.4,1032.0 L588.0,1031.6 L590.6,1031.2 L593.3,1030.9 L595.9,1030.7 L598.6,1030.6 L601.3,1030.6 L603.9,1030.7 L606.6,1030.9 L609.2,1031.2 L611.8,1031.6 L614.4,1032.2 L617.0,1032.9 L619.5,1033.7 L622.0,1034.8 L624.3,1036.1 L626.3,1037.9 L627.9,1039.9 L629.3,1042.2 L630.5,1044.6 L631.6,1047.0 L632.6,1049.5 L633.5,1052.0 L634.6,1054.4 L634.6,1054.4 L633.4,1055.8 L632.2,1057.1 L630.9,1058.4 L629.7,1059.7 L628.4,1061.0 L627.2,1062.4 L625.9,1063.7 L624.7,1065.0 L623.5,1066.4 L622.3,1067.8 L621.2,1069.2 L620.0,1070.6 L619.0,1072.1 L617.9,1073.5 L616.9,1075.0 L615.9,1076.6 L615.0,1078.1 L614.1,1079.7 L613.3,1081.3 L612.5,1083.0 L611.8,1084.7 L611.2,1086.4 L610.6,1088.1 L610.0,1089.8 L609.4,1091.5 L608.9,1093.3 L608.4,1095.0 L607.9,1096.7 L607.4,1098.5 L606.9,1100.2 L606.4,1102.0 L606.0,1103.8 L605.5,1105.5 L605.1,1107.3 L604.6,1109.0 L604.2,1110.8 L603.7,1112.6 L603.3,1114.3 L602.8,1116.1 L602.4,1117.8 L601.9,1119.6 L601.4,1121.3 L600.9,1123.1 L600.4,1124.8 L599.8,1126.5 L599.2,1128.3 L598.6,1130.0 L597.9,1131.7 L597.3,1133.4 L596.6,1135.1 L595.9,1136.7 L595.2,1138.4 L594.5,1140.1 L593.8,1141.7 L593.0,1143.4 L592.2,1145.0 L591.5,1146.7 L590.7,1148.3 L590.0,1150.0 Z"/><path d="M360.0,1078.0 L360.5,1075.8 L361.0,1073.6 L361.4,1071.5 L361.9,1069.3 L362.4,1067.1 L363.0,1064.9 L363.6,1062.8 L364.2,1060.7 L365.0,1058.6 L365.9,1056.5 L366.9,1054.5 L368.1,1052.6 L369.4,1050.8 L370.6,1049.0 L372.0,1047.2 L373.4,1045.4 L374.9,1043.8 L376.4,1042.2 L378.1,1040.6 L379.8,1039.2 L381.6,1037.9 L383.5,1036.8 L385.6,1035.9 L387.7,1035.2 L389.9,1034.7 L392.1,1034.3 L394.3,1034.1 L396.5,1034.0 L398.8,1034.0 L401.0,1034.1 L403.2,1034.4 L405.4,1034.8 L407.6,1035.3 L409.7,1036.1 L411.7,1037.0 L413.5,1038.3 L415.2,1039.8 L416.7,1041.4 L418.1,1043.2 L419.3,1045.0 L420.5,1047.0 L421.5,1049.0 L422.4,1051.0 L423.2,1053.1 L424.0,1055.2 L424.6,1057.3 L425.1,1059.5 L425.5,1061.7 L425.6,1063.9 L425.6,1066.1 L425.5,1068.4 L425.2,1070.6 L424.9,1072.8 L424.6,1075.0 L424.2,1077.2 L423.8,1079.4 L423.4,1081.6 L422.9,1083.8 L422.6,1086.0 L422.6,1086.0 L421.6,1086.7 L420.6,1087.5 L419.7,1088.2 L418.7,1089.0 L417.8,1089.8 L416.8,1090.5 L415.9,1091.3 L414.9,1092.0 L413.9,1092.7 L412.9,1093.4 L411.9,1094.1 L410.8,1094.7 L409.7,1095.3 L408.6,1095.8 L407.5,1096.3 L406.3,1096.6 L405.2,1097.0 L403.9,1097.2 L402.7,1097.3 L401.5,1097.4 L400.3,1097.5 L399.1,1097.5 L397.8,1097.5 L396.6,1097.5 L395.4,1097.4 L394.2,1097.3 L393.0,1097.2 L391.8,1097.1 L390.5,1096.9 L389.3,1096.7 L388.1,1096.4 L386.9,1096.2 L385.8,1095.9 L384.6,1095.6 L383.4,1095.2 L382.2,1094.9 L381.1,1094.4 L380.0,1094.0 L378.9,1093.4 L377.8,1092.9 L376.7,1092.2 L375.7,1091.6 L374.7,1090.9 L373.7,1090.2 L372.7,1089.4 L371.8,1088.7 L370.8,1087.9 L369.9,1087.1 L369.0,1086.3 L368.1,1085.5 L367.2,1084.7 L366.3,1083.8 L365.4,1083.0 L364.5,1082.1 L363.6,1081.3 L362.7,1080.5 L361.8,1079.6 L360.9,1078.8 L360.0,1078.0 Z"/><path d="M63.0,1142.0 L63.5,1133.2 L66.9,1125.1 L74.1,1120.0 L82.1,1116.1 L90.3,1112.6 L98.5,1109.3 L106.7,1106.0 L114.9,1102.6 L123.2,1099.5 L131.8,1097.0 L140.5,1095.4 L149.3,1094.7 L158.2,1094.9 L167.1,1095.6 L175.9,1096.6 L184.7,1097.7 L193.4,1099.2 L202.1,1101.0 L210.7,1103.4 L218.9,1106.7 L226.6,1111.1 L234.0,1116.0 L241.3,1121.0 L249.0,1125.4 L257.2,1128.9 L265.6,1131.8 L274.0,1134.6 L282.1,1138.1 L289.6,1142.8 L296.3,1148.6 L302.9,1154.7 L309.1,1160.9 L315.3,1167.3 L321.6,1173.5 L328.3,1179.4 L335.0,1185.3 L341.3,1191.5 L347.1,1198.2 L352.7,1205.1 L358.2,1212.1 L363.5,1219.2 L368.7,1226.3 L373.8,1233.6 L378.6,1241.1 L383.2,1248.7 L387.4,1256.5 L391.1,1264.6 L394.5,1272.7 L397.8,1281.0 L400.9,1289.3 L404.2,1297.6 L407.7,1305.7 L411.8,1313.6 L416.4,1321.2 L421.1,1328.7 L425.6,1336.4 L428.4,1344.8 L427.7,1353.5 L425.0,1362.0 L358.0,1372.0 L355.0,1365.3 L352.0,1358.6 L349.0,1351.8 L346.0,1345.1 L343.0,1338.4 L340.0,1331.7 L337.1,1324.9 L334.2,1318.1 L331.6,1311.2 L329.2,1304.3 L326.7,1297.4 L324.1,1290.5 L321.3,1283.7 L318.2,1277.0 L314.6,1270.6 L310.7,1264.3 L306.6,1258.2 L302.3,1252.3 L297.7,1246.5 L293.0,1240.9 L288.1,1235.4 L283.0,1230.0 L277.8,1224.8 L272.5,1219.7 L267.1,1214.8 L261.6,1209.8 L256.1,1205.0 L250.5,1200.2 L244.9,1195.3 L239.4,1190.5 L233.9,1185.7 L228.4,1180.7 L223.1,1175.6 L217.9,1170.4 L212.6,1165.3 L206.8,1160.8 L200.6,1156.8 L194.3,1153.1 L187.7,1149.7 L181.0,1146.6 L174.2,1143.8 L167.3,1141.4 L160.2,1139.4 L153.0,1137.7 L145.8,1136.5 L138.5,1135.8 L131.1,1136.2 L124.5,1139.2 L118.3,1143.2 L112.4,1147.6 L106.8,1152.3 L101.0,1156.9 L94.8,1160.9 L87.8,1162.9 L80.5,1163.0 L73.5,1160.8 L68.4,1155.7 L65.5,1148.9 L63.0,1142.0 Z"/><ellipse cx="143.5" cy="1274" rx="39.5" ry="38.5" transform="rotate(0 143.5 1274)"/><ellipse cx="166" cy="1378" rx="50" ry="35" transform="rotate(25 166 1378)"/><ellipse cx="723.6" cy="1375.6" rx="52" ry="47" transform="rotate(-30 723.6 1375.6)"/><ellipse cx="484.7" cy="1362.3" rx="49" ry="48" transform="rotate(0 484.7 1362.3)"/><ellipse cx="796" cy="1267" rx="34" ry="52" transform="rotate(22 796 1267)"/><ellipse cx="389" cy="1379" rx="40.5" ry="39.5" transform="rotate(0 389 1379)"/></g><clipPath id="clipS4"><path d="M150.0,1245.0 L153.4,1242.8 L156.7,1240.3 L159.9,1237.8 L163.0,1235.1 L166.1,1232.3 L169.1,1229.6 L172.1,1226.8 L175.1,1224.0 L178.2,1221.3 L181.2,1218.5 L184.2,1215.7 L187.2,1212.9 L190.2,1210.2 L193.3,1207.4 L196.3,1204.7 L199.4,1202.0 L202.6,1199.4 L205.7,1196.8 L209.0,1194.2 L212.3,1191.8 L215.7,1189.5 L219.2,1187.4 L222.7,1185.3 L226.2,1183.2 L229.7,1181.1 L233.2,1179.0 L236.8,1176.9 L240.3,1174.8 L243.8,1172.7 L247.3,1170.6 L250.9,1168.6 L254.4,1166.5 L258.0,1164.4 L261.5,1162.4 L265.1,1160.3 L268.6,1158.3 L272.2,1156.3 L275.8,1154.3 L279.4,1152.3 L283.0,1150.4 L286.6,1148.5 L290.3,1146.7 L294.0,1144.9 L297.7,1143.2 L301.4,1141.5 L305.2,1139.9 L309.0,1138.4 L312.8,1136.9 L316.7,1135.5 L320.6,1134.1 L324.4,1132.8 L328.3,1131.6 L332.3,1130.4 L336.2,1129.2 L340.1,1128.0 L344.0,1126.8 L348.0,1125.8 L352.0,1124.9 L356.0,1124.0 L356.0,1124.0 L355.7,1128.5 L355.4,1132.9 L355.2,1137.4 L354.8,1141.9 L354.4,1146.3 L353.7,1150.8 L352.8,1155.1 L351.5,1159.4 L349.9,1163.6 L348.0,1167.6 L345.9,1171.6 L343.5,1175.4 L340.9,1179.0 L338.1,1182.5 L335.1,1185.9 L332.0,1189.1 L328.8,1192.2 L325.5,1195.2 L322.1,1198.1 L318.6,1200.9 L315.1,1203.7 L311.5,1206.4 L308.0,1209.1 L304.4,1211.8 L300.8,1214.4 L297.1,1217.1 L293.5,1219.7 L289.8,1222.2 L286.1,1224.8 L282.4,1227.3 L278.7,1229.8 L275.0,1232.2 L271.2,1234.7 L267.5,1237.2 L263.8,1239.6 L260.0,1242.1 L256.3,1244.6 L252.5,1247.0 L248.8,1249.5 L245.1,1252.0 L241.3,1254.4 L237.6,1256.9 L233.8,1259.3 L230.1,1261.8 L226.3,1264.2 L222.6,1266.6 L218.8,1269.1 L215.1,1271.5 L211.3,1274.0 L207.6,1276.4 L203.8,1278.8 L200.1,1281.3 L196.3,1283.8 L192.6,1286.2 L188.9,1288.8 L185.3,1291.4 L181.7,1294.1 L178.3,1297.0 L175.0,1300.0 Z"/></clipPath><g filter="url(#bark)"><g clip-path="url(#clipS4)"><path d="M150.0,1245.0 L153.4,1242.8 L156.7,1240.3 L159.9,1237.8 L163.0,1235.1 L166.1,1232.3 L169.1,1229.6 L172.1,1226.8 L175.1,1224.0 L178.2,1221.3 L181.2,1218.5 L184.2,1215.7 L187.2,1212.9 L190.2,1210.2 L193.3,1207.4 L196.3,1204.7 L199.4,1202.0 L202.6,1199.4 L205.7,1196.8 L209.0,1194.2 L212.3,1191.8 L215.7,1189.5 L219.2,1187.4 L222.7,1185.3 L226.2,1183.2 L229.7,1181.1 L233.2,1179.0 L236.8,1176.9 L240.3,1174.8 L243.8,1172.7 L247.3,1170.6 L250.9,1168.6 L254.4,1166.5 L258.0,1164.4 L261.5,1162.4 L265.1,1160.3 L268.6,1158.3 L272.2,1156.3 L275.8,1154.3 L279.4,1152.3 L283.0,1150.4 L286.6,1148.5 L290.3,1146.7 L294.0,1144.9 L297.7,1143.2 L301.4,1141.5 L305.2,1139.9 L309.0,1138.4 L312.8,1136.9 L316.7,1135.5 L320.6,1134.1 L324.4,1132.8 L328.3,1131.6 L332.3,1130.4 L336.2,1129.2 L340.1,1128.0 L344.0,1126.8 L348.0,1125.8 L352.0,1124.9 L356.0,1124.0 L356.0,1124.0 L355.7,1128.5 L355.4,1132.9 L355.2,1137.4 L354.8,1141.9 L354.4,1146.3 L353.7,1150.8 L352.8,1155.1 L351.5,1159.4 L349.9,1163.6 L348.0,1167.6 L345.9,1171.6 L343.5,1175.4 L340.9,1179.0 L338.1,1182.5 L335.1,1185.9 L332.0,1189.1 L328.8,1192.2 L325.5,1195.2 L322.1,1198.1 L318.6,1200.9 L315.1,1203.7 L311.5,1206.4 L308.0,1209.1 L304.4,1211.8 L300.8,1214.4 L297.1,1217.1 L293.5,1219.7 L289.8,1222.2 L286.1,1224.8 L282.4,1227.3 L278.7,1229.8 L275.0,1232.2 L271.2,1234.7 L267.5,1237.2 L263.8,1239.6 L260.0,1242.1 L256.3,1244.6 L252.5,1247.0 L248.8,1249.5 L245.1,1252.0 L241.3,1254.4 L237.6,1256.9 L233.8,1259.3 L230.1,1261.8 L226.3,1264.2 L222.6,1266.6 L218.8,1269.1 L215.1,1271.5 L211.3,1274.0 L207.6,1276.4 L203.8,1278.8 L200.1,1281.3 L196.3,1283.8 L192.6,1286.2 L188.9,1288.8 L185.3,1291.4 L181.7,1294.1 L178.3,1297.0 L175.0,1300.0 Z" fill="#2a160c"/><path filter="url(#stkblur)" d="M153.6,1254.4 L157.0,1252.0 L160.4,1249.4 L163.6,1246.8 L166.8,1244.2 L170.0,1241.5 L173.2,1238.8 L176.4,1236.1 L179.6,1233.4 L182.8,1230.7 L185.9,1228.0 L189.1,1225.3 L192.3,1222.6 L195.5,1219.9 L198.7,1217.2 L201.9,1214.5 L205.2,1211.9 L208.4,1209.3 L211.7,1206.7 L215.1,1204.2 L218.5,1201.8 L222.0,1199.5 L225.5,1197.3 L229.1,1195.1 L232.7,1192.9 L236.2,1190.7 L239.8,1188.5 L243.4,1186.3 L246.9,1184.2 L250.5,1182.0 L254.1,1179.8 L257.6,1177.6 L261.2,1175.5 L264.8,1173.3 L268.3,1171.1 L271.9,1168.9 L275.5,1166.7 L279.0,1164.6 L282.6,1162.4 L286.2,1160.3 L289.8,1158.1 L293.4,1156.0 L296.9,1153.9 L300.5,1151.8 L304.1,1149.8 L307.7,1147.7 L311.2,1145.7 L314.8,1143.7 L318.3,1141.7 L321.7,1139.7 L325.2,1137.8 L328.5,1135.8 L331.9,1133.9 L335.1,1132.0 L338.3,1130.0 L341.4,1128.1 L344.5,1126.2 L347.7,1124.4 L350.8,1122.7 L354.0,1121.0 L354.0,1121.0 L352.9,1124.7 L351.8,1128.3 L350.7,1132.0 L349.5,1135.7 L348.3,1139.5 L346.9,1143.2 L345.3,1146.8 L343.4,1150.4 L341.3,1154.0 L339.0,1157.4 L336.4,1160.8 L333.7,1164.0 L330.8,1167.2 L327.8,1170.3 L324.7,1173.3 L321.5,1176.1 L318.1,1179.0 L314.7,1181.7 L311.3,1184.4 L307.8,1187.0 L304.2,1189.6 L300.7,1192.2 L297.1,1194.7 L293.5,1197.2 L289.9,1199.7 L286.3,1202.2 L282.7,1204.7 L279.1,1207.1 L275.4,1209.6 L271.7,1212.0 L268.1,1214.4 L264.4,1216.8 L260.7,1219.2 L257.0,1221.6 L253.3,1224.0 L249.6,1226.3 L245.9,1228.7 L242.2,1231.1 L238.6,1233.5 L234.9,1236.0 L231.3,1238.4 L227.7,1240.9 L224.1,1243.4 L220.5,1245.9 L216.9,1248.4 L213.3,1250.9 L209.7,1253.4 L206.1,1256.0 L202.5,1258.5 L198.9,1261.0 L195.4,1263.5 L191.8,1266.0 L188.2,1268.6 L184.6,1271.1 L181.1,1273.7 L177.6,1276.3 L174.1,1279.0 L170.7,1281.8 L167.4,1284.6 Z" fill="#50322a"/></g></g><g filter="url(#cutf)" transform="rotate(0 143.5 1274)"><ellipse cx="143.5" cy="1274" rx="39.5" ry="38.5" fill="#a08058"/><ellipse cx="143.5" cy="1274" rx="36.0" ry="35.0" fill="#d4bc94"/><ellipse cx="143.5" cy="1274" rx="28.4" ry="27.7" fill="none" stroke="#b89c70" stroke-width="2" opacity="0.6"/><ellipse cx="145.5" cy="1275" rx="5.1" ry="6.2" fill="#9c7a50" opacity="0.8"/></g><clipPath id="clipS3"><path d="M135.0,1352.0 L140.5,1348.4 L145.4,1344.1 L150.0,1339.4 L154.3,1334.5 L158.6,1329.4 L162.7,1324.4 L166.8,1319.3 L170.9,1314.1 L175.1,1309.0 L179.2,1303.9 L183.3,1298.8 L187.5,1293.8 L191.7,1288.7 L196.0,1283.8 L200.3,1278.9 L204.8,1274.1 L209.4,1269.4 L214.2,1264.8 L219.0,1260.4 L223.9,1256.1 L229.0,1251.9 L234.2,1247.9 L239.5,1244.0 L244.8,1240.2 L250.4,1236.8 L256.3,1233.9 L262.4,1231.4 L268.5,1229.1 L274.5,1226.4 L280.3,1223.4 L285.9,1219.9 L291.3,1216.2 L296.7,1212.4 L302.0,1208.6 L307.2,1204.6 L312.5,1200.7 L317.7,1196.7 L322.9,1192.7 L327.8,1188.4 L332.6,1183.9 L337.5,1179.5 L342.6,1175.4 L348.1,1171.9 L354.1,1169.2 L360.2,1166.9 L366.5,1165.0 L372.9,1163.3 L379.2,1161.7 L385.6,1160.1 L392.0,1158.5 L398.3,1156.9 L404.7,1155.3 L411.1,1153.8 L417.5,1152.4 L423.9,1151.1 L430.4,1150.0 L436.9,1149.4 L443.5,1149.5 L450.0,1150.0 L470.0,1190.0 L468.7,1195.4 L463.6,1198.7 L458.1,1201.3 L452.5,1203.8 L446.9,1206.1 L441.2,1208.3 L435.5,1210.6 L429.8,1212.8 L424.2,1215.0 L418.5,1217.1 L412.8,1219.3 L407.1,1221.5 L401.4,1223.7 L395.7,1225.9 L390.0,1228.1 L384.3,1230.3 L378.7,1232.5 L373.0,1234.8 L367.4,1237.1 L361.7,1239.4 L356.1,1241.7 L350.5,1244.0 L344.8,1246.3 L339.2,1248.7 L333.6,1251.1 L328.1,1253.6 L322.5,1256.2 L317.1,1258.9 L311.7,1261.7 L306.3,1264.5 L301.0,1267.6 L296.0,1271.1 L291.3,1275.0 L286.8,1279.1 L282.5,1283.4 L278.3,1287.8 L274.2,1292.3 L270.2,1296.9 L266.2,1301.5 L262.3,1306.2 L258.4,1310.9 L254.6,1315.6 L250.7,1320.3 L246.8,1325.0 L243.0,1329.7 L239.1,1334.4 L235.3,1339.2 L231.5,1343.9 L227.7,1348.7 L223.9,1353.5 L220.3,1358.4 L216.7,1363.3 L213.1,1368.3 L209.8,1373.4 L206.6,1378.6 L203.6,1383.9 L200.7,1389.2 L197.9,1394.6 L195.0,1400.0 Z"/></clipPath><g filter="url(#bark)"><g clip-path="url(#clipS3)"><path d="M135.0,1352.0 L140.5,1348.4 L145.4,1344.1 L150.0,1339.4 L154.3,1334.5 L158.6,1329.4 L162.7,1324.4 L166.8,1319.3 L170.9,1314.1 L175.1,1309.0 L179.2,1303.9 L183.3,1298.8 L187.5,1293.8 L191.7,1288.7 L196.0,1283.8 L200.3,1278.9 L204.8,1274.1 L209.4,1269.4 L214.2,1264.8 L219.0,1260.4 L223.9,1256.1 L229.0,1251.9 L234.2,1247.9 L239.5,1244.0 L244.8,1240.2 L250.4,1236.8 L256.3,1233.9 L262.4,1231.4 L268.5,1229.1 L274.5,1226.4 L280.3,1223.4 L285.9,1219.9 L291.3,1216.2 L296.7,1212.4 L302.0,1208.6 L307.2,1204.6 L312.5,1200.7 L317.7,1196.7 L322.9,1192.7 L327.8,1188.4 L332.6,1183.9 L337.5,1179.5 L342.6,1175.4 L348.1,1171.9 L354.1,1169.2 L360.2,1166.9 L366.5,1165.0 L372.9,1163.3 L379.2,1161.7 L385.6,1160.1 L392.0,1158.5 L398.3,1156.9 L404.7,1155.3 L411.1,1153.8 L417.5,1152.4 L423.9,1151.1 L430.4,1150.0 L436.9,1149.4 L443.5,1149.5 L450.0,1150.0 L470.0,1190.0 L468.7,1195.4 L463.6,1198.7 L458.1,1201.3 L452.5,1203.8 L446.9,1206.1 L441.2,1208.3 L435.5,1210.6 L429.8,1212.8 L424.2,1215.0 L418.5,1217.1 L412.8,1219.3 L407.1,1221.5 L401.4,1223.7 L395.7,1225.9 L390.0,1228.1 L384.3,1230.3 L378.7,1232.5 L373.0,1234.8 L367.4,1237.1 L361.7,1239.4 L356.1,1241.7 L350.5,1244.0 L344.8,1246.3 L339.2,1248.7 L333.6,1251.1 L328.1,1253.6 L322.5,1256.2 L317.1,1258.9 L311.7,1261.7 L306.3,1264.5 L301.0,1267.6 L296.0,1271.1 L291.3,1275.0 L286.8,1279.1 L282.5,1283.4 L278.3,1287.8 L274.2,1292.3 L270.2,1296.9 L266.2,1301.5 L262.3,1306.2 L258.4,1310.9 L254.6,1315.6 L250.7,1320.3 L246.8,1325.0 L243.0,1329.7 L239.1,1334.4 L235.3,1339.2 L231.5,1343.9 L227.7,1348.7 L223.9,1353.5 L220.3,1358.4 L216.7,1363.3 L213.1,1368.3 L209.8,1373.4 L206.6,1378.6 L203.6,1383.9 L200.7,1389.2 L197.9,1394.6 L195.0,1400.0 Z" fill="#3e1a0c"/><path filter="url(#stkblur)" d="M146.5,1359.8 L151.4,1355.8 L155.9,1351.2 L160.1,1346.4 L164.1,1341.4 L168.1,1336.3 L172.1,1331.2 L176.0,1326.2 L180.0,1321.1 L184.1,1316.0 L188.1,1311.0 L192.1,1306.0 L196.2,1301.0 L200.4,1296.0 L204.5,1291.1 L208.8,1286.2 L213.1,1281.5 L217.6,1276.8 L222.1,1272.2 L226.7,1267.7 L231.4,1263.3 L236.3,1259.0 L241.2,1254.9 L246.2,1250.9 L251.3,1247.0 L256.6,1243.3 L262.2,1240.1 L268.0,1237.4 L273.8,1234.7 L279.7,1232.0 L285.4,1229.0 L290.9,1225.6 L296.3,1222.2 L301.7,1218.7 L307.1,1215.1 L312.4,1211.6 L317.8,1208.0 L323.1,1204.4 L328.4,1200.7 L333.5,1196.9 L338.4,1192.9 L343.5,1188.9 L348.7,1185.2 L354.3,1182.1 L360.2,1179.4 L366.2,1177.1 L372.4,1175.2 L378.6,1173.4 L384.8,1171.7 L391.0,1170.0 L397.2,1168.2 L403.4,1166.4 L409.6,1164.7 L415.8,1163.1 L422.1,1161.4 L428.3,1159.9 L434.6,1158.5 L440.9,1157.5 L447.1,1156.8 L452.5,1156.0 L463.5,1178.0 L461.0,1182.1 L455.6,1184.6 L449.8,1186.8 L444.1,1188.9 L438.2,1191.0 L432.4,1193.1 L426.6,1195.1 L420.7,1197.2 L414.9,1199.2 L409.1,1201.3 L403.2,1203.3 L397.4,1205.4 L391.5,1207.5 L385.7,1209.6 L379.9,1211.8 L374.2,1214.2 L368.6,1216.7 L363.0,1219.4 L357.6,1222.1 L352.1,1224.9 L346.6,1227.7 L341.1,1230.4 L335.6,1233.1 L330.0,1235.8 L324.5,1238.6 L319.0,1241.4 L313.5,1244.2 L308.1,1247.1 L302.6,1250.1 L297.1,1253.0 L291.7,1255.9 L286.5,1259.2 L281.5,1262.7 L276.6,1266.6 L272.0,1270.7 L267.6,1274.9 L263.2,1279.3 L258.9,1283.8 L254.7,1288.3 L250.6,1292.9 L246.5,1297.5 L242.4,1302.2 L238.4,1306.9 L234.4,1311.6 L230.4,1316.4 L226.4,1321.2 L222.5,1326.0 L218.6,1330.8 L214.8,1335.6 L210.9,1340.5 L207.2,1345.4 L203.5,1350.4 L199.8,1355.4 L196.3,1360.5 L192.9,1365.7 L189.5,1370.9 L186.3,1376.1 L183.0,1381.2 L179.5,1386.2 Z" fill="#7e4428"/></g></g><g clip-path="url(#clipS3)"><path d="M290,1150 L470,1150 L470,1240 L330,1300 L300,1260 Z" fill="#2a1208" opacity="0.55" filter="url(#stkblur)"/></g><g filter="url(#bark)"><path d="M398,1162 C404,1154 420,1155 427,1163 C432,1172 429,1186 420,1190 C410,1193 402,1186 399,1178 Z" fill="#8a5a38"/><ellipse cx="416" cy="1170" rx="8" ry="10" fill="#a87a50"/></g><g filter="url(#cutf)" transform="rotate(25 166 1378)"><ellipse cx="166" cy="1378" rx="50" ry="35" fill="#a08058"/><ellipse cx="166" cy="1378" rx="46.5" ry="31.5" fill="#e4d6b4"/><ellipse cx="166" cy="1378" rx="36.0" ry="25.2" fill="none" stroke="#b89c70" stroke-width="2" opacity="0.6"/><ellipse cx="168" cy="1379" rx="6.5" ry="5.6" fill="#9c7a50" opacity="0.8"/></g><clipPath id="clipS8"><path d="M575.0,1190.0 L575.9,1193.9 L576.6,1197.9 L577.0,1201.9 L577.4,1206.0 L577.5,1210.0 L577.6,1214.0 L577.6,1218.1 L577.7,1222.1 L577.7,1226.2 L577.8,1230.2 L578.0,1234.2 L578.2,1238.3 L578.6,1242.3 L579.0,1246.3 L579.6,1250.3 L580.3,1254.3 L581.0,1258.3 L581.8,1262.2 L582.6,1266.2 L583.5,1270.1 L584.5,1274.1 L585.5,1278.0 L586.7,1281.9 L587.9,1285.7 L589.3,1289.5 L590.9,1293.2 L592.7,1296.8 L594.8,1300.3 L597.2,1303.5 L600.0,1306.4 L603.1,1309.0 L606.4,1311.3 L609.8,1313.5 L613.3,1315.5 L616.8,1317.6 L620.2,1319.8 L623.5,1322.1 L626.8,1324.4 L630.0,1326.8 L633.3,1329.2 L636.6,1331.6 L639.8,1334.0 L643.1,1336.4 L646.4,1338.8 L649.6,1341.1 L652.9,1343.5 L656.1,1345.9 L659.4,1348.3 L662.6,1350.8 L665.8,1353.2 L669.0,1355.7 L672.1,1358.3 L675.2,1361.0 L678.1,1363.8 L680.8,1366.7 L683.3,1369.9 L685.7,1373.2 L687.8,1376.6 L690.0,1380.0 L765.0,1345.0 L764.1,1341.9 L763.3,1338.8 L762.1,1335.8 L760.5,1333.0 L758.5,1330.6 L756.0,1328.5 L753.3,1326.8 L750.5,1325.2 L747.7,1323.6 L745.0,1321.9 L742.3,1320.1 L739.7,1318.2 L737.2,1316.2 L734.8,1314.1 L732.4,1312.0 L730.0,1309.8 L727.7,1307.6 L725.3,1305.4 L723.0,1303.1 L720.7,1300.9 L718.4,1298.7 L716.1,1296.4 L713.8,1294.1 L711.5,1291.9 L709.2,1289.6 L707.0,1287.3 L704.7,1285.1 L702.5,1282.8 L700.2,1280.5 L698.0,1278.2 L695.7,1275.9 L693.5,1273.5 L691.3,1271.2 L689.1,1268.9 L686.9,1266.5 L684.7,1264.1 L682.6,1261.7 L680.5,1259.3 L678.3,1256.9 L676.3,1254.4 L674.2,1252.0 L672.2,1249.5 L670.3,1246.9 L668.4,1244.3 L666.6,1241.6 L664.9,1238.9 L663.2,1236.1 L661.7,1233.3 L660.2,1230.5 L658.9,1227.5 L657.8,1224.5 L656.6,1221.5 L655.6,1218.5 L654.6,1215.4 L653.7,1212.3 L652.8,1209.2 L651.9,1206.2 L651.0,1203.1 L650.0,1200.0 Z"/></clipPath><g filter="url(#bark)"><g clip-path="url(#clipS8)"><path d="M575.0,1190.0 L575.9,1193.9 L576.6,1197.9 L577.0,1201.9 L577.4,1206.0 L577.5,1210.0 L577.6,1214.0 L577.6,1218.1 L577.7,1222.1 L577.7,1226.2 L577.8,1230.2 L578.0,1234.2 L578.2,1238.3 L578.6,1242.3 L579.0,1246.3 L579.6,1250.3 L580.3,1254.3 L581.0,1258.3 L581.8,1262.2 L582.6,1266.2 L583.5,1270.1 L584.5,1274.1 L585.5,1278.0 L586.7,1281.9 L587.9,1285.7 L589.3,1289.5 L590.9,1293.2 L592.7,1296.8 L594.8,1300.3 L597.2,1303.5 L600.0,1306.4 L603.1,1309.0 L606.4,1311.3 L609.8,1313.5 L613.3,1315.5 L616.8,1317.6 L620.2,1319.8 L623.5,1322.1 L626.8,1324.4 L630.0,1326.8 L633.3,1329.2 L636.6,1331.6 L639.8,1334.0 L643.1,1336.4 L646.4,1338.8 L649.6,1341.1 L652.9,1343.5 L656.1,1345.9 L659.4,1348.3 L662.6,1350.8 L665.8,1353.2 L669.0,1355.7 L672.1,1358.3 L675.2,1361.0 L678.1,1363.8 L680.8,1366.7 L683.3,1369.9 L685.7,1373.2 L687.8,1376.6 L690.0,1380.0 L765.0,1345.0 L764.1,1341.9 L763.3,1338.8 L762.1,1335.8 L760.5,1333.0 L758.5,1330.6 L756.0,1328.5 L753.3,1326.8 L750.5,1325.2 L747.7,1323.6 L745.0,1321.9 L742.3,1320.1 L739.7,1318.2 L737.2,1316.2 L734.8,1314.1 L732.4,1312.0 L730.0,1309.8 L727.7,1307.6 L725.3,1305.4 L723.0,1303.1 L720.7,1300.9 L718.4,1298.7 L716.1,1296.4 L713.8,1294.1 L711.5,1291.9 L709.2,1289.6 L707.0,1287.3 L704.7,1285.1 L702.5,1282.8 L700.2,1280.5 L698.0,1278.2 L695.7,1275.9 L693.5,1273.5 L691.3,1271.2 L689.1,1268.9 L686.9,1266.5 L684.7,1264.1 L682.6,1261.7 L680.5,1259.3 L678.3,1256.9 L676.3,1254.4 L674.2,1252.0 L672.2,1249.5 L670.3,1246.9 L668.4,1244.3 L666.6,1241.6 L664.9,1238.9 L663.2,1236.1 L661.7,1233.3 L660.2,1230.5 L658.9,1227.5 L657.8,1224.5 L656.6,1221.5 L655.6,1218.5 L654.6,1215.4 L653.7,1212.3 L652.8,1209.2 L651.9,1206.2 L651.0,1203.1 L650.0,1200.0 Z" fill="#2e180e"/><path filter="url(#stkblur)" d="M589.9,1189.2 L590.8,1193.0 L591.5,1196.8 L592.1,1200.6 L592.5,1204.4 L592.9,1208.2 L593.2,1212.0 L593.4,1215.9 L593.7,1219.7 L594.0,1223.5 L594.4,1227.3 L594.8,1231.0 L595.4,1234.8 L596.0,1238.5 L596.7,1242.3 L597.6,1246.0 L598.5,1249.6 L599.6,1253.3 L600.6,1256.9 L601.7,1260.6 L602.9,1264.2 L604.1,1267.7 L605.4,1271.3 L606.7,1274.9 L608.2,1278.4 L609.8,1281.8 L611.5,1285.2 L613.4,1288.6 L615.5,1291.8 L617.9,1294.8 L620.6,1297.6 L623.5,1300.1 L626.5,1302.4 L629.7,1304.6 L632.9,1306.7 L636.1,1308.8 L639.3,1311.0 L642.4,1313.3 L645.4,1315.6 L648.4,1318.0 L651.5,1320.4 L654.5,1322.7 L657.6,1325.1 L660.7,1327.4 L663.7,1329.7 L666.8,1332.1 L669.9,1334.4 L672.9,1336.7 L676.0,1339.0 L679.1,1341.3 L682.2,1343.6 L685.3,1345.9 L688.4,1348.2 L691.3,1350.7 L694.1,1353.3 L696.7,1356.2 L699.1,1359.2 L701.1,1362.5 L703.0,1365.8 L704.9,1369.1 L746.1,1349.9 L745.0,1346.7 L743.8,1343.5 L742.4,1340.5 L740.6,1337.6 L738.4,1335.0 L735.8,1332.8 L733.0,1330.9 L730.2,1329.1 L727.3,1327.3 L724.4,1325.4 L721.6,1323.5 L718.9,1321.4 L716.2,1319.4 L713.6,1317.2 L711.0,1315.0 L708.5,1312.8 L705.9,1310.5 L703.4,1308.3 L700.8,1306.0 L698.3,1303.7 L695.8,1301.5 L693.3,1299.2 L690.7,1296.9 L688.2,1294.7 L685.7,1292.4 L683.1,1290.2 L680.6,1288.0 L678.1,1285.7 L675.7,1283.3 L673.3,1280.9 L671.0,1278.3 L668.8,1275.8 L666.7,1273.1 L664.6,1270.5 L662.6,1267.8 L660.7,1265.1 L658.8,1262.4 L656.9,1259.6 L655.0,1256.9 L653.2,1254.1 L651.4,1251.3 L649.7,1248.4 L648.0,1245.6 L646.4,1242.6 L644.9,1239.7 L643.4,1236.7 L642.1,1233.6 L640.8,1230.5 L639.7,1227.4 L638.7,1224.2 L637.7,1221.0 L636.9,1217.7 L636.1,1214.5 L635.3,1211.2 L634.5,1207.9 L633.7,1204.6 L632.9,1201.3 L632.1,1198.0 L631.1,1194.8 Z" fill="#5e3a2a"/></g></g><g filter="url(#cutf)" transform="rotate(-30 723.6 1375.6)"><ellipse cx="723.6" cy="1375.6" rx="52" ry="47" fill="#a08058"/><ellipse cx="723.6" cy="1375.6" rx="48.5" ry="43.5" fill="#e6d8b6"/><ellipse cx="723.6" cy="1375.6" rx="37.4" ry="33.8" fill="none" stroke="#b89c70" stroke-width="2" opacity="0.6"/><ellipse cx="725.6" cy="1376.6" rx="6.8" ry="7.5" fill="#9c7a50" opacity="0.8"/></g><clipPath id="clipS7"><path d="M430.0,1160.0 L430.7,1163.3 L431.3,1166.5 L431.8,1169.8 L432.4,1173.1 L433.1,1176.4 L433.8,1179.6 L434.6,1182.9 L435.4,1186.1 L436.4,1189.3 L437.4,1192.5 L438.6,1195.6 L439.9,1198.7 L441.3,1201.7 L442.8,1204.7 L444.4,1207.6 L446.1,1210.5 L447.7,1213.4 L449.5,1216.2 L451.2,1219.1 L452.9,1221.9 L454.7,1224.7 L456.4,1227.6 L458.1,1230.5 L459.8,1233.3 L461.4,1236.3 L463.0,1239.2 L464.5,1242.2 L466.0,1245.2 L467.3,1248.2 L468.5,1251.3 L469.6,1254.5 L470.6,1257.7 L471.5,1260.9 L472.4,1264.1 L473.2,1267.3 L473.9,1270.6 L474.6,1273.8 L475.2,1277.1 L475.6,1280.4 L476.0,1283.7 L476.3,1287.1 L476.3,1290.4 L476.2,1293.7 L475.9,1297.0 L475.3,1300.3 L474.2,1303.5 L472.6,1306.4 L470.6,1309.0 L468.3,1311.5 L465.9,1313.7 L463.3,1315.8 L460.6,1317.8 L458.0,1319.9 L455.5,1322.0 L453.2,1324.5 L451.0,1327.0 L449.0,1329.6 L447.0,1332.3 L445.0,1335.0 L525.0,1370.0 L527.8,1367.4 L530.5,1364.7 L532.6,1361.5 L534.5,1358.2 L536.1,1354.7 L537.7,1351.2 L539.3,1347.8 L541.0,1344.3 L542.6,1340.8 L544.2,1337.4 L545.7,1333.9 L547.2,1330.3 L548.6,1326.8 L550.0,1323.2 L551.2,1319.6 L552.4,1315.9 L553.4,1312.3 L554.2,1308.5 L554.9,1304.8 L555.3,1301.0 L555.5,1297.1 L555.5,1293.3 L555.1,1289.5 L554.7,1285.7 L554.1,1281.9 L553.3,1278.2 L552.4,1274.4 L551.5,1270.7 L550.4,1267.1 L549.4,1263.4 L548.2,1259.8 L547.0,1256.1 L545.8,1252.5 L544.5,1248.9 L543.2,1245.3 L542.0,1241.7 L540.7,1238.1 L539.3,1234.5 L537.8,1231.0 L536.2,1227.5 L534.5,1224.1 L532.8,1220.7 L531.0,1217.3 L529.2,1213.9 L527.3,1210.6 L525.5,1207.2 L523.7,1203.8 L521.9,1200.4 L520.2,1197.0 L518.7,1193.5 L517.4,1189.9 L516.4,1186.2 L515.9,1182.4 L515.8,1178.6 L516.1,1174.8 L516.8,1171.0 L517.9,1167.3 L519.0,1163.7 L520.0,1160.0 Z"/></clipPath><g filter="url(#bark)"><g clip-path="url(#clipS7)"><path d="M430.0,1160.0 L430.7,1163.3 L431.3,1166.5 L431.8,1169.8 L432.4,1173.1 L433.1,1176.4 L433.8,1179.6 L434.6,1182.9 L435.4,1186.1 L436.4,1189.3 L437.4,1192.5 L438.6,1195.6 L439.9,1198.7 L441.3,1201.7 L442.8,1204.7 L444.4,1207.6 L446.1,1210.5 L447.7,1213.4 L449.5,1216.2 L451.2,1219.1 L452.9,1221.9 L454.7,1224.7 L456.4,1227.6 L458.1,1230.5 L459.8,1233.3 L461.4,1236.3 L463.0,1239.2 L464.5,1242.2 L466.0,1245.2 L467.3,1248.2 L468.5,1251.3 L469.6,1254.5 L470.6,1257.7 L471.5,1260.9 L472.4,1264.1 L473.2,1267.3 L473.9,1270.6 L474.6,1273.8 L475.2,1277.1 L475.6,1280.4 L476.0,1283.7 L476.3,1287.1 L476.3,1290.4 L476.2,1293.7 L475.9,1297.0 L475.3,1300.3 L474.2,1303.5 L472.6,1306.4 L470.6,1309.0 L468.3,1311.5 L465.9,1313.7 L463.3,1315.8 L460.6,1317.8 L458.0,1319.9 L455.5,1322.0 L453.2,1324.5 L451.0,1327.0 L449.0,1329.6 L447.0,1332.3 L445.0,1335.0 L525.0,1370.0 L527.8,1367.4 L530.5,1364.7 L532.6,1361.5 L534.5,1358.2 L536.1,1354.7 L537.7,1351.2 L539.3,1347.8 L541.0,1344.3 L542.6,1340.8 L544.2,1337.4 L545.7,1333.9 L547.2,1330.3 L548.6,1326.8 L550.0,1323.2 L551.2,1319.6 L552.4,1315.9 L553.4,1312.3 L554.2,1308.5 L554.9,1304.8 L555.3,1301.0 L555.5,1297.1 L555.5,1293.3 L555.1,1289.5 L554.7,1285.7 L554.1,1281.9 L553.3,1278.2 L552.4,1274.4 L551.5,1270.7 L550.4,1267.1 L549.4,1263.4 L548.2,1259.8 L547.0,1256.1 L545.8,1252.5 L544.5,1248.9 L543.2,1245.3 L542.0,1241.7 L540.7,1238.1 L539.3,1234.5 L537.8,1231.0 L536.2,1227.5 L534.5,1224.1 L532.8,1220.7 L531.0,1217.3 L529.2,1213.9 L527.3,1210.6 L525.5,1207.2 L523.7,1203.8 L521.9,1200.4 L520.2,1197.0 L518.7,1193.5 L517.4,1189.9 L516.4,1186.2 L515.9,1182.4 L515.8,1178.6 L516.1,1174.8 L516.8,1171.0 L517.9,1167.3 L519.0,1163.7 L520.0,1160.0 Z" fill="#3a2014"/><path filter="url(#stkblur)" d="M448.2,1157.0 L448.6,1160.4 L448.7,1163.7 L449.0,1167.1 L449.3,1170.5 L449.7,1173.9 L450.2,1177.3 L451.0,1180.6 L451.9,1184.0 L452.9,1187.2 L454.0,1190.5 L455.3,1193.7 L456.7,1196.8 L458.2,1199.9 L459.8,1203.0 L461.5,1206.0 L463.2,1209.0 L464.9,1212.0 L466.6,1215.0 L468.3,1218.0 L470.0,1220.9 L471.7,1223.9 L473.4,1227.0 L475.0,1230.0 L476.6,1233.0 L478.1,1236.1 L479.6,1239.2 L481.1,1242.3 L482.5,1245.4 L483.7,1248.6 L484.9,1251.9 L486.0,1255.1 L487.0,1258.4 L487.9,1261.8 L488.8,1265.1 L489.5,1268.5 L490.2,1271.8 L490.8,1275.2 L491.3,1278.6 L491.6,1282.0 L491.8,1285.5 L491.8,1288.9 L491.7,1292.3 L491.4,1295.7 L490.9,1299.1 L490.1,1302.5 L489.0,1305.7 L487.4,1308.8 L485.5,1311.6 L483.4,1314.3 L481.1,1316.8 L478.8,1319.2 L476.3,1321.6 L473.9,1323.9 L471.6,1326.4 L469.5,1329.0 L467.4,1331.8 L465.3,1334.5 L463.2,1337.2 L461.0,1339.9 L505.0,1359.1 L507.6,1356.5 L510.1,1353.8 L512.3,1350.8 L514.2,1347.6 L516.0,1344.4 L517.8,1341.2 L519.6,1338.0 L521.5,1334.9 L523.3,1331.7 L525.1,1328.5 L526.8,1325.3 L528.4,1321.9 L529.9,1318.5 L531.2,1315.1 L532.3,1311.5 L533.3,1307.9 L534.1,1304.3 L534.7,1300.7 L535.2,1297.0 L535.4,1293.3 L535.4,1289.6 L535.3,1285.9 L534.9,1282.2 L534.3,1278.6 L533.7,1274.9 L532.9,1271.3 L532.0,1267.7 L531.0,1264.1 L530.0,1260.5 L528.9,1257.0 L527.7,1253.5 L526.4,1250.0 L525.1,1246.5 L523.8,1243.0 L522.5,1239.6 L521.1,1236.1 L519.7,1232.7 L518.3,1229.3 L516.7,1225.9 L515.1,1222.6 L513.4,1219.3 L511.6,1216.0 L509.9,1212.7 L508.1,1209.5 L506.3,1206.2 L504.5,1203.0 L502.8,1199.7 L501.2,1196.3 L499.6,1193.0 L498.2,1189.5 L497.0,1186.0 L496.0,1182.4 L495.4,1178.8 L495.2,1175.1 L495.3,1171.4 L495.7,1167.8 L496.4,1164.2 L497.2,1160.6 L497.8,1157.0 Z" fill="#6e4a38"/></g></g><g filter="url(#cutf)" transform="rotate(0 484.7 1362.3)"><ellipse cx="484.7" cy="1362.3" rx="49" ry="48" fill="#a08058"/><ellipse cx="484.7" cy="1362.3" rx="45.5" ry="44.5" fill="#e2d2ae"/><ellipse cx="484.7" cy="1362.3" rx="35.3" ry="34.6" fill="none" stroke="#b89c70" stroke-width="2" opacity="0.6"/><ellipse cx="486.7" cy="1363.3" rx="6.4" ry="7.7" fill="#9c7a50" opacity="0.8"/></g><clipPath id="clipS2"><path d="M214.0,1108.0 L222.6,1101.4 L232.6,1096.2 L242.6,1091.2 L252.8,1086.4 L263.1,1082.2 L273.7,1078.5 L284.5,1075.5 L295.4,1072.7 L306.3,1070.3 L317.3,1068.1 L328.3,1065.8 L339.2,1063.5 L350.3,1062.0 L361.5,1062.1 L372.5,1064.1 L383.3,1067.2 L393.9,1071.0 L404.3,1074.9 L414.9,1078.6 L425.7,1081.8 L436.6,1084.2 L447.7,1086.0 L458.7,1087.8 L469.7,1089.9 L480.6,1092.5 L491.5,1095.2 L502.5,1097.6 L513.5,1099.2 L524.6,1098.4 L534.5,1093.2 L544.7,1088.8 L555.4,1091.6 L564.3,1098.3 L572.5,1106.0 L580.3,1114.0 L588.2,1121.9 L596.6,1129.4 L605.7,1135.8 L615.5,1141.3 L625.6,1146.1 L635.9,1150.5 L646.3,1154.8 L656.7,1159.0 L667.0,1163.5 L677.3,1167.7 L687.8,1171.7 L698.3,1175.6 L708.8,1179.6 L719.3,1183.5 L729.8,1187.3 L740.4,1191.2 L750.9,1195.0 L761.5,1198.6 L772.1,1202.1 L782.9,1205.4 L793.6,1208.6 L804.3,1211.9 L814.7,1216.0 L822.0,1224.0 L775.0,1310.0 L769.8,1301.2 L763.9,1292.9 L756.9,1285.5 L749.6,1278.4 L742.2,1271.3 L734.6,1264.5 L726.8,1257.9 L718.8,1251.6 L710.3,1246.0 L701.1,1241.6 L691.3,1238.7 L681.3,1236.6 L671.3,1234.3 L661.5,1231.5 L651.9,1228.2 L642.2,1224.9 L632.6,1221.6 L622.9,1218.3 L613.3,1214.9 L603.6,1211.6 L594.0,1208.2 L584.3,1204.9 L574.6,1201.7 L564.9,1198.5 L555.2,1195.3 L545.5,1192.2 L535.8,1189.2 L526.0,1186.3 L516.2,1183.5 L506.3,1180.8 L496.4,1178.2 L486.5,1175.7 L476.6,1173.2 L466.8,1170.7 L456.9,1168.1 L447.0,1165.4 L437.2,1162.6 L427.5,1159.4 L417.9,1155.9 L408.4,1152.2 L398.9,1148.5 L389.2,1145.4 L379.1,1144.1 L369.3,1146.9 L359.3,1147.3 L350.0,1143.2 L341.2,1138.1 L332.4,1132.8 L323.3,1128.2 L313.5,1125.5 L303.3,1125.7 L293.4,1127.8 L283.5,1130.4 L273.5,1132.6 L263.6,1135.0 L253.7,1137.4 L243.8,1139.9 L233.9,1142.5 L224.0,1145.0 Z"/></clipPath><g filter="url(#bark)"><g clip-path="url(#clipS2)"><path d="M214.0,1108.0 L222.6,1101.4 L232.6,1096.2 L242.6,1091.2 L252.8,1086.4 L263.1,1082.2 L273.7,1078.5 L284.5,1075.5 L295.4,1072.7 L306.3,1070.3 L317.3,1068.1 L328.3,1065.8 L339.2,1063.5 L350.3,1062.0 L361.5,1062.1 L372.5,1064.1 L383.3,1067.2 L393.9,1071.0 L404.3,1074.9 L414.9,1078.6 L425.7,1081.8 L436.6,1084.2 L447.7,1086.0 L458.7,1087.8 L469.7,1089.9 L480.6,1092.5 L491.5,1095.2 L502.5,1097.6 L513.5,1099.2 L524.6,1098.4 L534.5,1093.2 L544.7,1088.8 L555.4,1091.6 L564.3,1098.3 L572.5,1106.0 L580.3,1114.0 L588.2,1121.9 L596.6,1129.4 L605.7,1135.8 L615.5,1141.3 L625.6,1146.1 L635.9,1150.5 L646.3,1154.8 L656.7,1159.0 L667.0,1163.5 L677.3,1167.7 L687.8,1171.7 L698.3,1175.6 L708.8,1179.6 L719.3,1183.5 L729.8,1187.3 L740.4,1191.2 L750.9,1195.0 L761.5,1198.6 L772.1,1202.1 L782.9,1205.4 L793.6,1208.6 L804.3,1211.9 L814.7,1216.0 L822.0,1224.0 L775.0,1310.0 L769.8,1301.2 L763.9,1292.9 L756.9,1285.5 L749.6,1278.4 L742.2,1271.3 L734.6,1264.5 L726.8,1257.9 L718.8,1251.6 L710.3,1246.0 L701.1,1241.6 L691.3,1238.7 L681.3,1236.6 L671.3,1234.3 L661.5,1231.5 L651.9,1228.2 L642.2,1224.9 L632.6,1221.6 L622.9,1218.3 L613.3,1214.9 L603.6,1211.6 L594.0,1208.2 L584.3,1204.9 L574.6,1201.7 L564.9,1198.5 L555.2,1195.3 L545.5,1192.2 L535.8,1189.2 L526.0,1186.3 L516.2,1183.5 L506.3,1180.8 L496.4,1178.2 L486.5,1175.7 L476.6,1173.2 L466.8,1170.7 L456.9,1168.1 L447.0,1165.4 L437.2,1162.6 L427.5,1159.4 L417.9,1155.9 L408.4,1152.2 L398.9,1148.5 L389.2,1145.4 L379.1,1144.1 L369.3,1146.9 L359.3,1147.3 L350.0,1143.2 L341.2,1138.1 L332.4,1132.8 L323.3,1128.2 L313.5,1125.5 L303.3,1125.7 L293.4,1127.8 L283.5,1130.4 L273.5,1132.6 L263.6,1135.0 L253.7,1137.4 L243.8,1139.9 L233.9,1142.5 L224.0,1145.0 Z" fill="#381c0e"/><path filter="url(#stkblur)" d="M214.2,1113.3 L223.2,1107.6 L233.1,1103.0 L243.1,1098.6 L253.2,1094.3 L263.5,1090.5 L273.9,1087.2 L284.5,1084.2 L295.2,1081.6 L305.9,1079.7 L316.6,1078.6 L327.2,1077.9 L337.7,1077.3 L348.2,1077.3 L359.0,1078.3 L369.8,1079.7 L380.3,1081.5 L390.8,1084.7 L401.1,1088.5 L411.5,1092.2 L421.9,1095.4 L432.6,1098.1 L443.3,1100.2 L454.1,1102.2 L464.8,1104.5 L475.5,1107.1 L486.2,1109.7 L496.9,1112.2 L507.7,1114.0 L518.5,1113.9 L528.4,1110.5 L538.5,1107.7 L549.0,1110.5 L558.1,1116.4 L566.6,1123.1 L574.8,1130.0 L583.2,1136.9 L591.8,1143.4 L601.1,1149.1 L610.9,1154.1 L620.9,1158.6 L631.0,1162.8 L641.2,1166.8 L651.4,1170.8 L661.6,1175.1 L671.8,1179.1 L682.1,1182.8 L692.5,1186.3 L702.9,1189.9 L713.2,1193.5 L723.4,1197.5 L733.5,1201.8 L743.5,1206.1 L753.4,1210.5 L763.4,1214.7 L773.4,1218.8 L783.3,1222.9 L793.2,1227.1 L802.6,1232.1 L809.4,1240.3 L783.6,1287.7 L778.0,1279.0 L771.0,1271.7 L763.1,1265.2 L755.1,1258.9 L746.9,1252.8 L738.7,1246.7 L730.3,1240.7 L721.6,1235.0 L712.7,1229.8 L703.2,1225.5 L693.2,1222.4 L683.1,1219.9 L673.1,1217.2 L663.1,1214.1 L653.3,1210.7 L643.5,1207.1 L633.6,1203.6 L623.8,1200.0 L614.0,1196.4 L604.3,1192.7 L594.6,1188.9 L585.1,1184.9 L575.7,1180.8 L566.4,1176.5 L557.1,1172.2 L547.7,1168.1 L538.2,1164.2 L528.2,1161.4 L518.3,1160.2 L508.4,1159.3 L498.3,1157.5 L488.1,1155.1 L478.0,1152.6 L467.9,1150.1 L457.8,1147.5 L447.7,1145.0 L437.6,1142.4 L427.6,1139.5 L417.7,1136.2 L407.9,1132.6 L398.1,1129.0 L388.2,1125.6 L378.1,1123.8 L368.1,1125.2 L357.8,1125.1 L348.0,1122.0 L338.7,1118.3 L329.5,1114.8 L319.9,1111.7 L309.9,1110.1 L299.5,1110.8 L289.4,1113.1 L279.3,1115.7 L269.2,1118.3 L259.1,1121.0 L249.2,1124.0 L239.3,1127.1 L229.4,1130.2 L219.8,1133.7 Z" fill="#6c402c"/></g></g><g filter="url(#cutf)" transform="rotate(22 796 1267)"><ellipse cx="796" cy="1267" rx="34" ry="52" fill="#a08058"/><ellipse cx="796" cy="1267" rx="30.5" ry="48.5" fill="#e6d8b6"/><ellipse cx="796" cy="1267" rx="24.5" ry="37.4" fill="none" stroke="#b89c70" stroke-width="2" opacity="0.6"/><ellipse cx="798" cy="1268" rx="4.4" ry="8.3" fill="#9c7a50" opacity="0.8"/></g><clipPath id="clipS6"><path d="M548.0,1114.0 L549.3,1111.7 L550.6,1109.3 L551.9,1107.0 L553.1,1104.7 L554.3,1102.3 L555.5,1099.9 L556.6,1097.5 L557.6,1095.0 L558.5,1092.5 L559.3,1090.0 L560.1,1087.4 L560.8,1084.9 L561.5,1082.3 L562.2,1079.7 L562.8,1077.1 L563.5,1074.6 L564.1,1072.0 L564.7,1069.4 L565.3,1066.8 L565.9,1064.2 L566.3,1061.6 L566.6,1058.9 L566.8,1056.3 L567.0,1053.6 L567.1,1051.0 L567.4,1048.3 L567.8,1045.7 L568.5,1043.1 L569.5,1040.7 L571.0,1038.5 L573.0,1036.7 L575.3,1035.3 L577.7,1034.2 L580.2,1033.3 L582.8,1032.6 L585.4,1032.0 L588.0,1031.6 L590.6,1031.2 L593.3,1030.9 L595.9,1030.7 L598.6,1030.6 L601.3,1030.6 L603.9,1030.7 L606.6,1030.9 L609.2,1031.2 L611.8,1031.6 L614.4,1032.2 L617.0,1032.9 L619.5,1033.7 L622.0,1034.8 L624.3,1036.1 L626.3,1037.9 L627.9,1039.9 L629.3,1042.2 L630.5,1044.6 L631.6,1047.0 L632.6,1049.5 L633.5,1052.0 L634.6,1054.4 L634.6,1054.4 L633.4,1055.8 L632.2,1057.1 L630.9,1058.4 L629.7,1059.7 L628.4,1061.0 L627.2,1062.4 L625.9,1063.7 L624.7,1065.0 L623.5,1066.4 L622.3,1067.8 L621.2,1069.2 L620.0,1070.6 L619.0,1072.1 L617.9,1073.5 L616.9,1075.0 L615.9,1076.6 L615.0,1078.1 L614.1,1079.7 L613.3,1081.3 L612.5,1083.0 L611.8,1084.7 L611.2,1086.4 L610.6,1088.1 L610.0,1089.8 L609.4,1091.5 L608.9,1093.3 L608.4,1095.0 L607.9,1096.7 L607.4,1098.5 L606.9,1100.2 L606.4,1102.0 L606.0,1103.8 L605.5,1105.5 L605.1,1107.3 L604.6,1109.0 L604.2,1110.8 L603.7,1112.6 L603.3,1114.3 L602.8,1116.1 L602.4,1117.8 L601.9,1119.6 L601.4,1121.3 L600.9,1123.1 L600.4,1124.8 L599.8,1126.5 L599.2,1128.3 L598.6,1130.0 L597.9,1131.7 L597.3,1133.4 L596.6,1135.1 L595.9,1136.7 L595.2,1138.4 L594.5,1140.1 L593.8,1141.7 L593.0,1143.4 L592.2,1145.0 L591.5,1146.7 L590.7,1148.3 L590.0,1150.0 Z"/></clipPath><g filter="url(#bark)"><g clip-path="url(#clipS6)"><path d="M548.0,1114.0 L549.3,1111.7 L550.6,1109.3 L551.9,1107.0 L553.1,1104.7 L554.3,1102.3 L555.5,1099.9 L556.6,1097.5 L557.6,1095.0 L558.5,1092.5 L559.3,1090.0 L560.1,1087.4 L560.8,1084.9 L561.5,1082.3 L562.2,1079.7 L562.8,1077.1 L563.5,1074.6 L564.1,1072.0 L564.7,1069.4 L565.3,1066.8 L565.9,1064.2 L566.3,1061.6 L566.6,1058.9 L566.8,1056.3 L567.0,1053.6 L567.1,1051.0 L567.4,1048.3 L567.8,1045.7 L568.5,1043.1 L569.5,1040.7 L571.0,1038.5 L573.0,1036.7 L575.3,1035.3 L577.7,1034.2 L580.2,1033.3 L582.8,1032.6 L585.4,1032.0 L588.0,1031.6 L590.6,1031.2 L593.3,1030.9 L595.9,1030.7 L598.6,1030.6 L601.3,1030.6 L603.9,1030.7 L606.6,1030.9 L609.2,1031.2 L611.8,1031.6 L614.4,1032.2 L617.0,1032.9 L619.5,1033.7 L622.0,1034.8 L624.3,1036.1 L626.3,1037.9 L627.9,1039.9 L629.3,1042.2 L630.5,1044.6 L631.6,1047.0 L632.6,1049.5 L633.5,1052.0 L634.6,1054.4 L634.6,1054.4 L633.4,1055.8 L632.2,1057.1 L630.9,1058.4 L629.7,1059.7 L628.4,1061.0 L627.2,1062.4 L625.9,1063.7 L624.7,1065.0 L623.5,1066.4 L622.3,1067.8 L621.2,1069.2 L620.0,1070.6 L619.0,1072.1 L617.9,1073.5 L616.9,1075.0 L615.9,1076.6 L615.0,1078.1 L614.1,1079.7 L613.3,1081.3 L612.5,1083.0 L611.8,1084.7 L611.2,1086.4 L610.6,1088.1 L610.0,1089.8 L609.4,1091.5 L608.9,1093.3 L608.4,1095.0 L607.9,1096.7 L607.4,1098.5 L606.9,1100.2 L606.4,1102.0 L606.0,1103.8 L605.5,1105.5 L605.1,1107.3 L604.6,1109.0 L604.2,1110.8 L603.7,1112.6 L603.3,1114.3 L602.8,1116.1 L602.4,1117.8 L601.9,1119.6 L601.4,1121.3 L600.9,1123.1 L600.4,1124.8 L599.8,1126.5 L599.2,1128.3 L598.6,1130.0 L597.9,1131.7 L597.3,1133.4 L596.6,1135.1 L595.9,1136.7 L595.2,1138.4 L594.5,1140.1 L593.8,1141.7 L593.0,1143.4 L592.2,1145.0 L591.5,1146.7 L590.7,1148.3 L590.0,1150.0 Z" fill="#4e301c"/><path filter="url(#stkblur)" d="M555.5,1119.1 L556.6,1116.9 L557.8,1114.7 L558.9,1112.6 L560.1,1110.4 L561.2,1108.2 L562.3,1105.9 L563.3,1103.7 L564.2,1101.4 L565.1,1099.1 L565.9,1096.7 L566.6,1094.4 L567.3,1092.0 L568.0,1089.6 L568.7,1087.3 L569.3,1084.9 L569.9,1082.5 L570.5,1080.1 L571.1,1077.7 L571.6,1075.3 L572.2,1072.9 L572.6,1070.4 L573.0,1068.0 L573.2,1065.5 L573.4,1063.1 L573.7,1060.6 L574.0,1058.2 L574.4,1055.7 L575.0,1053.4 L575.9,1051.1 L577.2,1049.0 L578.9,1047.2 L580.7,1045.8 L582.7,1044.5 L584.8,1043.4 L586.9,1042.5 L589.0,1041.6 L591.2,1040.9 L593.4,1040.2 L595.6,1039.6 L597.8,1039.1 L600.1,1038.6 L602.3,1038.3 L604.6,1038.0 L606.9,1037.8 L609.2,1037.7 L611.4,1037.7 L613.7,1037.8 L615.9,1038.0 L618.2,1038.4 L620.3,1038.9 L622.4,1039.6 L624.2,1040.7 L625.7,1042.0 L627.1,1043.4 L628.3,1045.0 L629.4,1046.6 L630.5,1048.2 L631.5,1049.8 L632.6,1051.4 L632.6,1051.4 L631.4,1051.9 L630.3,1052.4 L629.1,1052.9 L627.9,1053.3 L626.6,1053.8 L625.3,1054.3 L624.0,1054.9 L622.6,1055.5 L621.2,1056.3 L619.7,1057.1 L618.2,1058.0 L616.8,1059.0 L615.4,1060.0 L613.9,1061.0 L612.5,1062.1 L611.2,1063.2 L609.9,1064.4 L608.6,1065.7 L607.4,1066.9 L606.2,1068.3 L605.0,1069.6 L604.0,1071.0 L602.9,1072.5 L601.8,1073.9 L600.8,1075.4 L599.9,1077.0 L598.9,1078.6 L598.0,1080.2 L597.2,1082.0 L596.5,1083.8 L595.9,1085.8 L595.4,1087.7 L594.9,1089.6 L594.5,1091.6 L594.2,1093.6 L593.8,1095.5 L593.4,1097.5 L593.0,1099.5 L592.5,1101.4 L592.0,1103.4 L591.5,1105.3 L591.0,1107.2 L590.5,1109.2 L589.9,1111.1 L589.3,1113.0 L588.7,1114.9 L588.1,1116.8 L587.4,1118.7 L586.7,1120.6 L586.0,1122.5 L585.3,1124.3 L584.5,1126.2 L583.7,1128.0 L582.9,1129.9 L582.0,1131.7 L581.2,1133.5 L580.3,1135.3 L579.4,1137.1 L578.5,1138.9 Z" fill="#8c6446"/></g></g><clipPath id="clipS5"><path d="M360.0,1078.0 L360.5,1075.8 L361.0,1073.6 L361.4,1071.5 L361.9,1069.3 L362.4,1067.1 L363.0,1064.9 L363.6,1062.8 L364.2,1060.7 L365.0,1058.6 L365.9,1056.5 L366.9,1054.5 L368.1,1052.6 L369.4,1050.8 L370.6,1049.0 L372.0,1047.2 L373.4,1045.4 L374.9,1043.8 L376.4,1042.2 L378.1,1040.6 L379.8,1039.2 L381.6,1037.9 L383.5,1036.8 L385.6,1035.9 L387.7,1035.2 L389.9,1034.7 L392.1,1034.3 L394.3,1034.1 L396.5,1034.0 L398.8,1034.0 L401.0,1034.1 L403.2,1034.4 L405.4,1034.8 L407.6,1035.3 L409.7,1036.1 L411.7,1037.0 L413.5,1038.3 L415.2,1039.8 L416.7,1041.4 L418.1,1043.2 L419.3,1045.0 L420.5,1047.0 L421.5,1049.0 L422.4,1051.0 L423.2,1053.1 L424.0,1055.2 L424.6,1057.3 L425.1,1059.5 L425.5,1061.7 L425.6,1063.9 L425.6,1066.1 L425.5,1068.4 L425.2,1070.6 L424.9,1072.8 L424.6,1075.0 L424.2,1077.2 L423.8,1079.4 L423.4,1081.6 L422.9,1083.8 L422.6,1086.0 L422.6,1086.0 L421.6,1086.7 L420.6,1087.5 L419.7,1088.2 L418.7,1089.0 L417.8,1089.8 L416.8,1090.5 L415.9,1091.3 L414.9,1092.0 L413.9,1092.7 L412.9,1093.4 L411.9,1094.1 L410.8,1094.7 L409.7,1095.3 L408.6,1095.8 L407.5,1096.3 L406.3,1096.6 L405.2,1097.0 L403.9,1097.2 L402.7,1097.3 L401.5,1097.4 L400.3,1097.5 L399.1,1097.5 L397.8,1097.5 L396.6,1097.5 L395.4,1097.4 L394.2,1097.3 L393.0,1097.2 L391.8,1097.1 L390.5,1096.9 L389.3,1096.7 L388.1,1096.4 L386.9,1096.2 L385.8,1095.9 L384.6,1095.6 L383.4,1095.2 L382.2,1094.9 L381.1,1094.4 L380.0,1094.0 L378.9,1093.4 L377.8,1092.9 L376.7,1092.2 L375.7,1091.6 L374.7,1090.9 L373.7,1090.2 L372.7,1089.4 L371.8,1088.7 L370.8,1087.9 L369.9,1087.1 L369.0,1086.3 L368.1,1085.5 L367.2,1084.7 L366.3,1083.8 L365.4,1083.0 L364.5,1082.1 L363.6,1081.3 L362.7,1080.5 L361.8,1079.6 L360.9,1078.8 L360.0,1078.0 Z"/></clipPath><g filter="url(#bark)"><g clip-path="url(#clipS5)"><path d="M360.0,1078.0 L360.5,1075.8 L361.0,1073.6 L361.4,1071.5 L361.9,1069.3 L362.4,1067.1 L363.0,1064.9 L363.6,1062.8 L364.2,1060.7 L365.0,1058.6 L365.9,1056.5 L366.9,1054.5 L368.1,1052.6 L369.4,1050.8 L370.6,1049.0 L372.0,1047.2 L373.4,1045.4 L374.9,1043.8 L376.4,1042.2 L378.1,1040.6 L379.8,1039.2 L381.6,1037.9 L383.5,1036.8 L385.6,1035.9 L387.7,1035.2 L389.9,1034.7 L392.1,1034.3 L394.3,1034.1 L396.5,1034.0 L398.8,1034.0 L401.0,1034.1 L403.2,1034.4 L405.4,1034.8 L407.6,1035.3 L409.7,1036.1 L411.7,1037.0 L413.5,1038.3 L415.2,1039.8 L416.7,1041.4 L418.1,1043.2 L419.3,1045.0 L420.5,1047.0 L421.5,1049.0 L422.4,1051.0 L423.2,1053.1 L424.0,1055.2 L424.6,1057.3 L425.1,1059.5 L425.5,1061.7 L425.6,1063.9 L425.6,1066.1 L425.5,1068.4 L425.2,1070.6 L424.9,1072.8 L424.6,1075.0 L424.2,1077.2 L423.8,1079.4 L423.4,1081.6 L422.9,1083.8 L422.6,1086.0 L422.6,1086.0 L421.6,1086.7 L420.6,1087.5 L419.7,1088.2 L418.7,1089.0 L417.8,1089.8 L416.8,1090.5 L415.9,1091.3 L414.9,1092.0 L413.9,1092.7 L412.9,1093.4 L411.9,1094.1 L410.8,1094.7 L409.7,1095.3 L408.6,1095.8 L407.5,1096.3 L406.3,1096.6 L405.2,1097.0 L403.9,1097.2 L402.7,1097.3 L401.5,1097.4 L400.3,1097.5 L399.1,1097.5 L397.8,1097.5 L396.6,1097.5 L395.4,1097.4 L394.2,1097.3 L393.0,1097.2 L391.8,1097.1 L390.5,1096.9 L389.3,1096.7 L388.1,1096.4 L386.9,1096.2 L385.8,1095.9 L384.6,1095.6 L383.4,1095.2 L382.2,1094.9 L381.1,1094.4 L380.0,1094.0 L378.9,1093.4 L377.8,1092.9 L376.7,1092.2 L375.7,1091.6 L374.7,1090.9 L373.7,1090.2 L372.7,1089.4 L371.8,1088.7 L370.8,1087.9 L369.9,1087.1 L369.0,1086.3 L368.1,1085.5 L367.2,1084.7 L366.3,1083.8 L365.4,1083.0 L364.5,1082.1 L363.6,1081.3 L362.7,1080.5 L361.8,1079.6 L360.9,1078.8 L360.0,1078.0 Z" fill="#5e3c24"/><path filter="url(#stkblur)" d="M358.0,1075.0 L358.6,1073.5 L359.2,1072.0 L359.7,1070.5 L360.3,1069.0 L360.9,1067.5 L361.5,1066.0 L362.2,1064.5 L362.9,1063.1 L363.7,1061.6 L364.6,1060.2 L365.6,1058.9 L366.7,1057.6 L367.9,1056.3 L369.1,1055.1 L370.4,1053.8 L371.7,1052.7 L373.1,1051.5 L374.5,1050.4 L376.0,1049.4 L377.6,1048.4 L379.2,1047.5 L381.0,1046.8 L382.8,1046.1 L384.7,1045.7 L386.7,1045.4 L388.7,1045.2 L390.6,1045.1 L392.6,1045.0 L394.6,1045.1 L396.6,1045.3 L398.6,1045.5 L400.6,1045.8 L402.6,1046.3 L404.5,1046.9 L406.3,1047.6 L408.0,1048.6 L409.6,1049.8 L411.0,1051.0 L412.3,1052.4 L413.6,1053.8 L414.7,1055.3 L415.8,1056.8 L416.8,1058.3 L417.7,1059.8 L418.5,1061.3 L419.3,1062.8 L419.9,1064.4 L420.4,1066.0 L420.8,1067.5 L421.0,1069.1 L421.1,1070.7 L421.1,1072.2 L421.1,1073.8 L421.1,1075.3 L421.0,1076.9 L420.9,1078.4 L420.7,1079.9 L420.6,1081.4 L420.6,1083.0 L420.6,1083.0 L419.9,1083.1 L419.3,1083.1 L418.6,1083.2 L418.0,1083.4 L417.3,1083.5 L416.7,1083.6 L416.0,1083.6 L415.3,1083.7 L414.5,1083.8 L413.8,1083.8 L412.9,1083.8 L412.0,1083.8 L411.1,1083.7 L410.1,1083.7 L409.0,1083.5 L407.9,1083.4 L406.8,1083.2 L405.7,1082.9 L404.5,1082.6 L403.2,1082.2 L402.0,1081.9 L400.7,1081.5 L399.4,1081.2 L398.0,1080.9 L396.6,1080.6 L395.2,1080.4 L393.8,1080.2 L392.3,1080.0 L390.9,1079.8 L389.5,1079.6 L388.0,1079.4 L386.6,1079.2 L385.2,1079.0 L383.8,1078.9 L382.4,1078.7 L381.0,1078.6 L379.7,1078.5 L378.3,1078.4 L377.1,1078.2 L375.8,1078.1 L374.7,1078.0 L373.5,1077.8 L372.4,1077.7 L371.3,1077.5 L370.3,1077.3 L369.2,1077.1 L368.2,1077.0 L367.2,1076.8 L366.3,1076.6 L365.4,1076.4 L364.5,1076.3 L363.7,1076.1 L362.8,1075.9 L362.0,1075.8 L361.2,1075.6 L360.4,1075.4 L359.6,1075.3 L358.8,1075.1 L358.0,1075.0 Z" fill="#a87c58"/></g></g><clipPath id="clipS1"><path d="M63.0,1142.0 L63.5,1133.2 L66.9,1125.1 L74.1,1120.0 L82.1,1116.1 L90.3,1112.6 L98.5,1109.3 L106.7,1106.0 L114.9,1102.6 L123.2,1099.5 L131.8,1097.0 L140.5,1095.4 L149.3,1094.7 L158.2,1094.9 L167.1,1095.6 L175.9,1096.6 L184.7,1097.7 L193.4,1099.2 L202.1,1101.0 L210.7,1103.4 L218.9,1106.7 L226.6,1111.1 L234.0,1116.0 L241.3,1121.0 L249.0,1125.4 L257.2,1128.9 L265.6,1131.8 L274.0,1134.6 L282.1,1138.1 L289.6,1142.8 L296.3,1148.6 L302.9,1154.7 L309.1,1160.9 L315.3,1167.3 L321.6,1173.5 L328.3,1179.4 L335.0,1185.3 L341.3,1191.5 L347.1,1198.2 L352.7,1205.1 L358.2,1212.1 L363.5,1219.2 L368.7,1226.3 L373.8,1233.6 L378.6,1241.1 L383.2,1248.7 L387.4,1256.5 L391.1,1264.6 L394.5,1272.7 L397.8,1281.0 L400.9,1289.3 L404.2,1297.6 L407.7,1305.7 L411.8,1313.6 L416.4,1321.2 L421.1,1328.7 L425.6,1336.4 L428.4,1344.8 L427.7,1353.5 L425.0,1362.0 L358.0,1372.0 L355.0,1365.3 L352.0,1358.6 L349.0,1351.8 L346.0,1345.1 L343.0,1338.4 L340.0,1331.7 L337.1,1324.9 L334.2,1318.1 L331.6,1311.2 L329.2,1304.3 L326.7,1297.4 L324.1,1290.5 L321.3,1283.7 L318.2,1277.0 L314.6,1270.6 L310.7,1264.3 L306.6,1258.2 L302.3,1252.3 L297.7,1246.5 L293.0,1240.9 L288.1,1235.4 L283.0,1230.0 L277.8,1224.8 L272.5,1219.7 L267.1,1214.8 L261.6,1209.8 L256.1,1205.0 L250.5,1200.2 L244.9,1195.3 L239.4,1190.5 L233.9,1185.7 L228.4,1180.7 L223.1,1175.6 L217.9,1170.4 L212.6,1165.3 L206.8,1160.8 L200.6,1156.8 L194.3,1153.1 L187.7,1149.7 L181.0,1146.6 L174.2,1143.8 L167.3,1141.4 L160.2,1139.4 L153.0,1137.7 L145.8,1136.5 L138.5,1135.8 L131.1,1136.2 L124.5,1139.2 L118.3,1143.2 L112.4,1147.6 L106.8,1152.3 L101.0,1156.9 L94.8,1160.9 L87.8,1162.9 L80.5,1163.0 L73.5,1160.8 L68.4,1155.7 L65.5,1148.9 L63.0,1142.0 Z"/></clipPath><g filter="url(#bark)"><g clip-path="url(#clipS1)"><path d="M63.0,1142.0 L63.5,1133.2 L66.9,1125.1 L74.1,1120.0 L82.1,1116.1 L90.3,1112.6 L98.5,1109.3 L106.7,1106.0 L114.9,1102.6 L123.2,1099.5 L131.8,1097.0 L140.5,1095.4 L149.3,1094.7 L158.2,1094.9 L167.1,1095.6 L175.9,1096.6 L184.7,1097.7 L193.4,1099.2 L202.1,1101.0 L210.7,1103.4 L218.9,1106.7 L226.6,1111.1 L234.0,1116.0 L241.3,1121.0 L249.0,1125.4 L257.2,1128.9 L265.6,1131.8 L274.0,1134.6 L282.1,1138.1 L289.6,1142.8 L296.3,1148.6 L302.9,1154.7 L309.1,1160.9 L315.3,1167.3 L321.6,1173.5 L328.3,1179.4 L335.0,1185.3 L341.3,1191.5 L347.1,1198.2 L352.7,1205.1 L358.2,1212.1 L363.5,1219.2 L368.7,1226.3 L373.8,1233.6 L378.6,1241.1 L383.2,1248.7 L387.4,1256.5 L391.1,1264.6 L394.5,1272.7 L397.8,1281.0 L400.9,1289.3 L404.2,1297.6 L407.7,1305.7 L411.8,1313.6 L416.4,1321.2 L421.1,1328.7 L425.6,1336.4 L428.4,1344.8 L427.7,1353.5 L425.0,1362.0 L358.0,1372.0 L355.0,1365.3 L352.0,1358.6 L349.0,1351.8 L346.0,1345.1 L343.0,1338.4 L340.0,1331.7 L337.1,1324.9 L334.2,1318.1 L331.6,1311.2 L329.2,1304.3 L326.7,1297.4 L324.1,1290.5 L321.3,1283.7 L318.2,1277.0 L314.6,1270.6 L310.7,1264.3 L306.6,1258.2 L302.3,1252.3 L297.7,1246.5 L293.0,1240.9 L288.1,1235.4 L283.0,1230.0 L277.8,1224.8 L272.5,1219.7 L267.1,1214.8 L261.6,1209.8 L256.1,1205.0 L250.5,1200.2 L244.9,1195.3 L239.4,1190.5 L233.9,1185.7 L228.4,1180.7 L223.1,1175.6 L217.9,1170.4 L212.6,1165.3 L206.8,1160.8 L200.6,1156.8 L194.3,1153.1 L187.7,1149.7 L181.0,1146.6 L174.2,1143.8 L167.3,1141.4 L160.2,1139.4 L153.0,1137.7 L145.8,1136.5 L138.5,1135.8 L131.1,1136.2 L124.5,1139.2 L118.3,1143.2 L112.4,1147.6 L106.8,1152.3 L101.0,1156.9 L94.8,1160.9 L87.8,1162.9 L80.5,1163.0 L73.5,1160.8 L68.4,1155.7 L65.5,1148.9 L63.0,1142.0 Z" fill="#4a3020"/><path filter="url(#stkblur)" d="M61.0,1139.0 L61.9,1133.7 L65.3,1129.0 L72.0,1126.2 L79.7,1123.6 L87.7,1120.9 L95.7,1117.9 L103.4,1114.4 L111.1,1110.8 L118.8,1107.3 L126.7,1104.4 L134.9,1102.2 L143.2,1101.1 L151.8,1101.1 L160.3,1101.8 L168.7,1102.8 L177.2,1104.1 L185.5,1105.7 L193.8,1107.6 L202.0,1110.1 L209.9,1113.3 L217.3,1117.5 L224.5,1122.2 L231.5,1127.0 L238.8,1131.4 L246.3,1135.2 L254.0,1138.6 L261.7,1142.0 L269.3,1145.8 L276.3,1150.5 L282.8,1156.1 L289.1,1161.9 L295.2,1167.8 L301.2,1173.9 L307.4,1179.8 L313.7,1185.5 L320.1,1191.2 L326.2,1197.2 L331.8,1203.5 L337.3,1210.1 L342.6,1216.8 L347.7,1223.6 L352.7,1230.5 L357.6,1237.5 L362.2,1244.7 L366.6,1252.0 L370.5,1259.6 L374.0,1267.4 L377.3,1275.3 L380.3,1283.3 L383.3,1291.2 L386.5,1299.2 L389.8,1307.0 L393.7,1314.6 L397.9,1322.1 L402.2,1329.4 L406.3,1336.9 L409.2,1344.9 L409.3,1353.2 L407.9,1361.2 L371.1,1366.8 L369.4,1359.6 L367.2,1352.4 L364.3,1345.3 L360.9,1338.4 L357.5,1331.5 L354.2,1324.6 L351.0,1317.6 L348.0,1310.5 L345.2,1303.3 L342.6,1296.1 L340.0,1288.8 L337.2,1281.7 L334.2,1274.6 L330.8,1267.6 L327.0,1261.0 L322.9,1254.4 L318.6,1248.1 L314.0,1241.8 L309.3,1235.8 L304.4,1229.8 L299.4,1224.0 L294.1,1218.3 L288.7,1212.9 L283.1,1207.7 L277.4,1202.5 L271.7,1197.3 L266.0,1192.1 L260.3,1186.9 L254.5,1181.8 L248.7,1176.8 L242.7,1172.0 L236.7,1167.3 L230.7,1162.7 L224.8,1158.0 L218.8,1153.4 L212.5,1148.8 L206.1,1144.6 L199.5,1140.6 L192.7,1137.0 L185.7,1133.9 L178.5,1131.2 L171.2,1128.9 L163.7,1127.0 L156.2,1125.5 L148.6,1124.3 L140.9,1123.6 L133.2,1123.9 L126.1,1126.3 L119.3,1129.8 L112.8,1133.8 L106.6,1138.1 L100.3,1142.5 L93.6,1146.3 L86.3,1148.6 L78.8,1149.4 L71.6,1148.6 L66.1,1145.8 L63.0,1142.4 L61.0,1139.0 Z" fill="#7b5a48"/></g></g><g filter="url(#cutf)" transform="rotate(0 389 1379)"><ellipse cx="389" cy="1379" rx="40.5" ry="39.5" fill="#a08058"/><ellipse cx="389" cy="1379" rx="37.0" ry="36.0" fill="#e0cea8"/><ellipse cx="389" cy="1379" rx="29.2" ry="28.4" fill="none" stroke="#b89c70" stroke-width="2" opacity="0.6"/><ellipse cx="391" cy="1380" rx="5.3" ry="6.3" fill="#9c7a50" opacity="0.8"/></g></g></svg>
</body></html>
